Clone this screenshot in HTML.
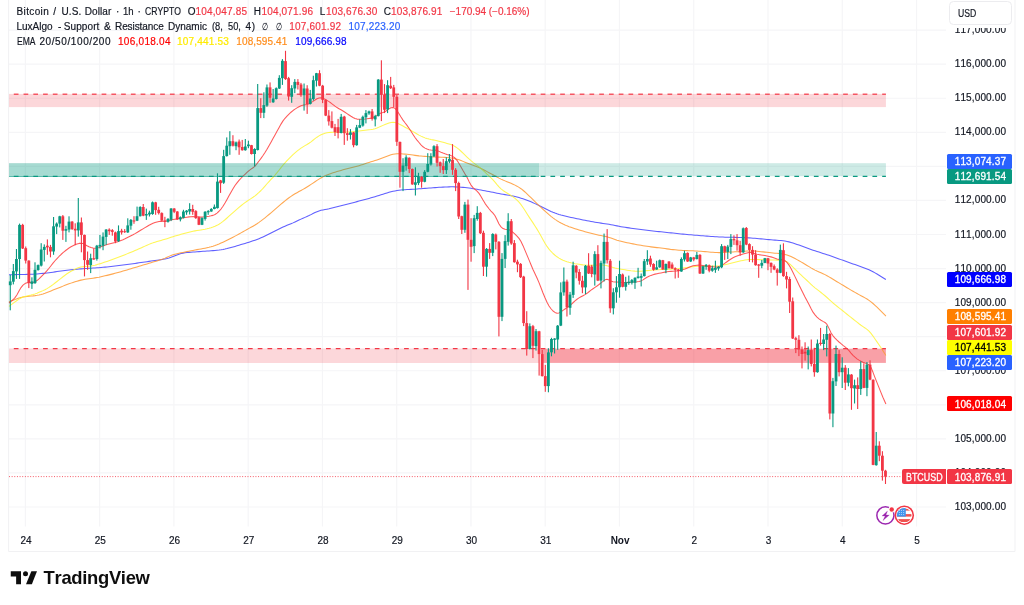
<!DOCTYPE html>
<html lang="en"><head><meta charset="utf-8"><title>BTCUSD chart</title>
<style>
html,body{margin:0;padding:0;background:#fff;}
body{width:1024px;height:605px;position:relative;overflow:hidden;font-family:"Liberation Sans",sans-serif;color:#131722;font-kerning:none;}
svg{position:absolute;left:0;top:0;}
.grp{position:absolute;left:0;top:0;width:0;height:0;font-size:0}
.t{position:absolute;white-space:pre;line-height:12px;-webkit-text-stroke:0.18px currentColor;}
.pl{position:absolute;left:947px;width:64.6px;border-radius:1.5px;color:#fff;font-size:10px;white-space:pre;box-sizing:border-box;}
.pl span{position:absolute;left:7.7px;-webkit-text-stroke:0.3px currentColor;}
</style></head><body>
<svg width="1024" height="605" viewBox="0 0 1024 605">
<line x1="9" x2="946" y1="30.15" y2="30.15" stroke="#f5f5f7" stroke-width="1.2"/>
<line x1="9" x2="946" y1="64.21" y2="64.21" stroke="#f5f5f7" stroke-width="1.2"/>
<line x1="9" x2="946" y1="98.27" y2="98.27" stroke="#f5f5f7" stroke-width="1.2"/>
<line x1="9" x2="946" y1="132.33" y2="132.33" stroke="#f5f5f7" stroke-width="1.2"/>
<line x1="9" x2="946" y1="166.39" y2="166.39" stroke="#f5f5f7" stroke-width="1.2"/>
<line x1="9" x2="946" y1="200.45" y2="200.45" stroke="#f5f5f7" stroke-width="1.2"/>
<line x1="9" x2="946" y1="234.51" y2="234.51" stroke="#f5f5f7" stroke-width="1.2"/>
<line x1="9" x2="946" y1="268.57" y2="268.57" stroke="#f5f5f7" stroke-width="1.2"/>
<line x1="9" x2="946" y1="302.63" y2="302.63" stroke="#f5f5f7" stroke-width="1.2"/>
<line x1="9" x2="946" y1="336.69" y2="336.69" stroke="#f5f5f7" stroke-width="1.2"/>
<line x1="9" x2="946" y1="370.75" y2="370.75" stroke="#f5f5f7" stroke-width="1.2"/>
<line x1="9" x2="946" y1="404.81" y2="404.81" stroke="#f5f5f7" stroke-width="1.2"/>
<line x1="9" x2="946" y1="438.87" y2="438.87" stroke="#f5f5f7" stroke-width="1.2"/>
<line x1="9" x2="946" y1="472.93" y2="472.93" stroke="#f5f5f7" stroke-width="1.2"/>
<line x1="9" x2="946" y1="506.99" y2="506.99" stroke="#f5f5f7" stroke-width="1.2"/>
<line x1="25.40" x2="25.40" y1="0" y2="526.6" stroke="#f5f5f7" stroke-width="1.2"/>
<line x1="99.66" x2="99.66" y1="0" y2="526.6" stroke="#f5f5f7" stroke-width="1.2"/>
<line x1="173.92" x2="173.92" y1="0" y2="526.6" stroke="#f5f5f7" stroke-width="1.2"/>
<line x1="248.18" x2="248.18" y1="0" y2="526.6" stroke="#f5f5f7" stroke-width="1.2"/>
<line x1="322.44" x2="322.44" y1="0" y2="526.6" stroke="#f5f5f7" stroke-width="1.2"/>
<line x1="396.70" x2="396.70" y1="0" y2="526.6" stroke="#f5f5f7" stroke-width="1.2"/>
<line x1="470.96" x2="470.96" y1="0" y2="526.6" stroke="#f5f5f7" stroke-width="1.2"/>
<line x1="545.22" x2="545.22" y1="0" y2="526.6" stroke="#f5f5f7" stroke-width="1.2"/>
<line x1="619.48" x2="619.48" y1="0" y2="526.6" stroke="#f5f5f7" stroke-width="1.2"/>
<line x1="693.74" x2="693.74" y1="0" y2="526.6" stroke="#f5f5f7" stroke-width="1.2"/>
<line x1="768.00" x2="768.00" y1="0" y2="526.6" stroke="#f5f5f7" stroke-width="1.2"/>
<line x1="842.26" x2="842.26" y1="0" y2="526.6" stroke="#f5f5f7" stroke-width="1.2"/>
<line x1="916.52" x2="916.52" y1="0" y2="526.6" stroke="#f5f5f7" stroke-width="1.2"/>
<path d="M8.6 0V551.5H1015V0" fill="none" stroke="#f1f1f3" stroke-width="1"/>
<polyline points="9.0,274.77 11.0,274.72 13.0,274.68 15.0,274.64 17.0,274.6 19.0,274.56 21.0,274.51 23.0,274.47 25.0,274.43 27.0,274.38 29.0,274.32 31.0,274.25 33.0,274.16 35.0,274.04 37.0,273.91 39.0,273.75 41.0,273.57 43.0,273.37 45.0,273.15 47.0,272.92 49.0,272.67 51.0,272.41 53.0,272.15 55.0,271.88 57.0,271.6 59.0,271.33 61.0,271.06 63.0,270.79 65.0,270.54 67.0,270.3 69.0,270.07 71.0,269.85 73.0,269.64 75.0,269.43 77.0,269.24 79.0,269.05 81.0,268.87 83.0,268.71 85.0,268.56 87.0,268.42 89.0,268.29 91.0,268.18 93.0,268.07 95.0,267.95 97.0,267.83 99.0,267.69 101.0,267.52 103.0,267.33 105.0,267.12 107.0,266.9 109.0,266.66 111.0,266.42 113.0,266.18 115.0,265.92 117.0,265.67 119.0,265.41 121.0,265.15 123.0,264.9 125.0,264.66 127.0,264.42 129.0,264.18 131.0,263.93 133.0,263.68 135.0,263.41 137.0,263.12 139.0,262.83 141.0,262.54 143.0,262.24 145.0,261.95 147.0,261.67 149.0,261.39 151.0,261.1 153.0,260.82 155.0,260.54 157.0,260.26 159.0,259.97 161.0,259.67 163.0,259.33 165.0,258.95 167.0,258.49 169.0,257.93 171.0,257.25 173.0,256.49 175.0,255.68 177.0,254.89 179.0,254.18 181.0,253.6 183.0,253.14 185.0,252.81 187.0,252.57 189.0,252.37 191.0,252.21 193.0,252.06 195.0,251.92 197.0,251.78 199.0,251.64 201.0,251.5 203.0,251.35 205.0,251.21 207.0,251.07 209.0,250.93 211.0,250.79 213.0,250.64 215.0,250.47 217.0,250.29 219.0,250.07 221.0,249.8 223.0,249.46 225.0,249.06 227.0,248.6 229.0,248.09 231.0,247.54 233.0,246.98 235.0,246.39 237.0,245.8 239.0,245.2 241.0,244.61 243.0,244.01 245.0,243.4 247.0,242.79 249.0,242.17 251.0,241.54 253.0,240.87 255.0,240.17 257.0,239.43 259.0,238.65 261.0,237.82 263.0,236.94 265.0,236.02 267.0,235.06 269.0,234.07 271.0,233.05 273.0,232.01 275.0,230.97 277.0,229.94 279.0,228.93 281.0,227.97 283.0,227.05 285.0,226.17 287.0,225.34 289.0,224.53 291.0,223.72 293.0,222.88 295.0,221.98 297.0,221.04 299.0,220.08 301.0,219.14 303.0,218.24 305.0,217.36 307.0,216.49 309.0,215.58 311.0,214.61 313.0,213.59 315.0,212.59 317.0,211.69 319.0,210.94 321.0,210.36 323.0,209.92 325.0,209.55 327.0,209.16 329.0,208.73 331.0,208.25 333.0,207.74 335.0,207.21 337.0,206.69 339.0,206.18 341.0,205.67 343.0,205.18 345.0,204.69 347.0,204.2 349.0,203.71 351.0,203.2 353.0,202.69 355.0,202.16 357.0,201.63 359.0,201.09 361.0,200.56 363.0,200.02 365.0,199.49 367.0,198.95 369.0,198.4 371.0,197.83 373.0,197.24 375.0,196.64 377.0,196.02 379.0,195.39 381.0,194.77 383.0,194.15 385.0,193.53 387.0,192.94 389.0,192.37 391.0,191.83 393.0,191.35 395.0,190.92 397.0,190.56 399.0,190.26 401.0,190.02 403.0,189.84 405.0,189.7 407.0,189.58 409.0,189.48 411.0,189.38 413.0,189.27 415.0,189.15 417.0,189.01 419.0,188.85 421.0,188.7 423.0,188.55 425.0,188.39 427.0,188.24 429.0,188.08 431.0,187.92 433.0,187.76 435.0,187.61 437.0,187.47 439.0,187.35 441.0,187.24 443.0,187.14 445.0,187.05 447.0,186.96 449.0,186.89 451.0,186.85 453.0,186.84 455.0,186.87 457.0,186.94 459.0,187.05 461.0,187.19 463.0,187.36 465.0,187.56 467.0,187.79 469.0,188.05 471.0,188.34 473.0,188.66 475.0,188.99 477.0,189.35 479.0,189.71 481.0,190.07 483.0,190.43 485.0,190.79 487.0,191.16 489.0,191.55 491.0,191.94 493.0,192.35 495.0,192.77 497.0,193.18 499.0,193.57 501.0,193.94 503.0,194.3 505.0,194.64 507.0,194.98 509.0,195.33 511.0,195.69 513.0,196.09 515.0,196.52 517.0,197.0 519.0,197.54 521.0,198.13 523.0,198.78 525.0,199.47 527.0,200.22 529.0,201.01 531.0,201.85 533.0,202.71 535.0,203.61 537.0,204.55 539.0,205.51 541.0,206.5 543.0,207.51 545.0,208.52 547.0,209.52 549.0,210.49 551.0,211.42 553.0,212.29 555.0,213.1 557.0,213.83 559.0,214.49 561.0,215.08 563.0,215.61 565.0,216.1 567.0,216.56 569.0,217.0 571.0,217.42 573.0,217.83 575.0,218.23 577.0,218.64 579.0,219.05 581.0,219.47 583.0,219.89 585.0,220.3 587.0,220.71 589.0,221.11 591.0,221.49 593.0,221.84 595.0,222.19 597.0,222.51 599.0,222.82 601.0,223.12 603.0,223.41 605.0,223.71 607.0,224.01 609.0,224.34 611.0,224.68 613.0,225.06 615.0,225.46 617.0,225.87 619.0,226.27 621.0,226.65 623.0,227.0 625.0,227.32 627.0,227.61 629.0,227.89 631.0,228.16 633.0,228.43 635.0,228.7 637.0,228.98 639.0,229.25 641.0,229.53 643.0,229.8 645.0,230.07 647.0,230.33 649.0,230.57 651.0,230.81 653.0,231.03 655.0,231.24 657.0,231.44 659.0,231.64 661.0,231.83 663.0,232.03 665.0,232.23 667.0,232.45 669.0,232.66 671.0,232.88 673.0,233.1 675.0,233.31 677.0,233.51 679.0,233.72 681.0,233.92 683.0,234.11 685.0,234.3 687.0,234.49 689.0,234.67 691.0,234.84 693.0,235.01 695.0,235.18 697.0,235.34 699.0,235.5 701.0,235.66 703.0,235.82 705.0,235.98 707.0,236.13 709.0,236.29 711.0,236.43 713.0,236.57 715.0,236.71 717.0,236.82 719.0,236.93 721.0,237.02 723.0,237.1 725.0,237.16 727.0,237.21 729.0,237.26 731.0,237.3 733.0,237.35 735.0,237.39 737.0,237.43 739.0,237.48 741.0,237.53 743.0,237.59 745.0,237.66 747.0,237.76 749.0,237.87 751.0,238.0 753.0,238.15 755.0,238.32 757.0,238.5 759.0,238.69 761.0,238.88 763.0,239.08 765.0,239.27 767.0,239.46 769.0,239.64 771.0,239.81 773.0,239.97 775.0,240.12 777.0,240.26 779.0,240.41 781.0,240.59 783.0,240.8 785.0,241.07 787.0,241.43 789.0,241.87 791.0,242.41 793.0,243.01 795.0,243.68 797.0,244.38 799.0,245.1 801.0,245.84 803.0,246.58 805.0,247.32 807.0,248.05 809.0,248.77 811.0,249.47 813.0,250.15 815.0,250.82 817.0,251.48 819.0,252.12 821.0,252.76 823.0,253.39 825.0,254.03 827.0,254.68 829.0,255.35 831.0,256.04 833.0,256.74 835.0,257.45 837.0,258.18 839.0,258.9 841.0,259.62 843.0,260.34 845.0,261.07 847.0,261.78 849.0,262.5 851.0,263.21 853.0,263.92 855.0,264.62 857.0,265.32 859.0,266.01 861.0,266.7 863.0,267.41 865.0,268.14 867.0,268.93 869.0,269.79 871.0,270.73 873.0,271.76 875.0,272.88 877.0,274.05 879.0,275.26 881.0,276.49 883.0,277.72 885.0,278.96 885.9,279.52" fill="none" stroke="#3c3cff" stroke-width="1.05" stroke-opacity="0.82" stroke-linejoin="round"/>
<polyline points="9.0,301.9 11.0,301.1 13.0,300.31 15.0,299.53 17.0,298.78 19.0,298.09 21.0,297.5 23.0,297.02 25.0,296.66 27.0,296.41 29.0,296.22 31.0,296.05 33.0,295.86 35.0,295.62 37.0,295.32 39.0,294.94 41.0,294.46 43.0,293.88 45.0,293.21 47.0,292.47 49.0,291.7 51.0,290.91 53.0,290.11 55.0,289.31 57.0,288.51 59.0,287.71 61.0,286.92 63.0,286.13 65.0,285.35 67.0,284.59 69.0,283.85 71.0,283.13 73.0,282.45 75.0,281.8 77.0,281.19 79.0,280.63 81.0,280.13 83.0,279.69 85.0,279.31 87.0,278.99 89.0,278.71 91.0,278.44 93.0,278.17 95.0,277.88 97.0,277.56 99.0,277.2 101.0,276.79 103.0,276.34 105.0,275.86 107.0,275.37 109.0,274.87 111.0,274.37 113.0,273.87 115.0,273.35 117.0,272.81 119.0,272.25 121.0,271.68 123.0,271.09 125.0,270.49 127.0,269.89 129.0,269.29 131.0,268.69 133.0,268.09 135.0,267.49 137.0,266.89 139.0,266.29 141.0,265.69 143.0,265.09 145.0,264.49 147.0,263.89 149.0,263.29 151.0,262.69 153.0,262.09 155.0,261.49 157.0,260.88 159.0,260.27 161.0,259.62 163.0,258.91 165.0,258.12 167.0,257.26 169.0,256.36 171.0,255.52 173.0,254.79 175.0,254.19 177.0,253.69 179.0,253.25 181.0,252.83 183.0,252.41 185.0,252.0 187.0,251.6 189.0,251.19 191.0,250.79 193.0,250.39 195.0,250.01 197.0,249.63 199.0,249.27 201.0,248.91 203.0,248.55 205.0,248.17 207.0,247.77 209.0,247.33 211.0,246.83 213.0,246.25 215.0,245.58 217.0,244.83 219.0,243.99 221.0,243.09 223.0,242.15 225.0,241.18 227.0,240.2 229.0,239.2 231.0,238.2 233.0,237.18 235.0,236.15 237.0,235.09 239.0,233.99 241.0,232.87 243.0,231.73 245.0,230.6 247.0,229.49 249.0,228.4 251.0,227.32 253.0,226.19 255.0,225.01 257.0,223.74 259.0,222.38 261.0,220.94 263.0,219.41 265.0,217.82 267.0,216.17 269.0,214.48 271.0,212.79 273.0,211.09 275.0,209.39 277.0,207.68 279.0,205.95 281.0,204.21 283.0,202.48 285.0,200.81 287.0,199.23 289.0,197.74 291.0,196.34 293.0,195.03 295.0,193.81 297.0,192.67 299.0,191.57 301.0,190.49 303.0,189.37 305.0,188.2 307.0,186.97 309.0,185.71 311.0,184.41 313.0,183.08 315.0,181.75 317.0,180.43 319.0,179.14 321.0,177.92 323.0,176.81 325.0,175.82 327.0,174.95 329.0,174.19 331.0,173.49 333.0,172.85 335.0,172.23 337.0,171.62 339.0,171.03 341.0,170.44 343.0,169.87 345.0,169.33 347.0,168.81 349.0,168.31 351.0,167.81 353.0,167.3 355.0,166.78 357.0,166.23 359.0,165.65 361.0,165.04 363.0,164.41 365.0,163.76 367.0,163.12 369.0,162.49 371.0,161.87 373.0,161.25 375.0,160.62 377.0,159.95 379.0,159.25 381.0,158.52 383.0,157.75 385.0,156.97 387.0,156.2 389.0,155.46 391.0,154.8 393.0,154.28 395.0,153.93 397.0,153.75 399.0,153.73 401.0,153.81 403.0,153.95 405.0,154.13 407.0,154.33 409.0,154.57 411.0,154.83 413.0,155.1 415.0,155.37 417.0,155.63 419.0,155.87 421.0,156.06 423.0,156.23 425.0,156.37 427.0,156.51 429.0,156.67 431.0,156.83 433.0,156.97 435.0,157.07 437.0,157.11 439.0,157.13 441.0,157.17 443.0,157.25 445.0,157.37 447.0,157.54 449.0,157.75 451.0,158.0 453.0,158.32 455.0,158.72 457.0,159.23 459.0,159.85 461.0,160.58 463.0,161.38 465.0,162.21 467.0,163.03 469.0,163.83 471.0,164.6 473.0,165.32 475.0,166.03 477.0,166.76 479.0,167.57 481.0,168.48 483.0,169.48 485.0,170.55 487.0,171.62 489.0,172.68 491.0,173.73 493.0,174.81 495.0,175.92 497.0,177.04 499.0,178.12 501.0,179.13 503.0,180.04 505.0,180.89 507.0,181.69 509.0,182.49 511.0,183.31 513.0,184.18 515.0,185.12 517.0,186.16 519.0,187.34 521.0,188.7 523.0,190.25 525.0,191.99 527.0,193.85 529.0,195.78 531.0,197.74 533.0,199.71 535.0,201.66 537.0,203.6 539.0,205.52 541.0,207.42 543.0,209.28 545.0,211.12 547.0,212.91 549.0,214.64 551.0,216.29 553.0,217.86 555.0,219.33 557.0,220.68 559.0,221.92 561.0,223.05 563.0,224.07 565.0,225.01 567.0,225.86 569.0,226.64 571.0,227.36 573.0,228.04 575.0,228.69 577.0,229.32 579.0,229.92 581.0,230.52 583.0,231.11 585.0,231.68 587.0,232.25 589.0,232.8 591.0,233.34 593.0,233.85 595.0,234.34 597.0,234.79 599.0,235.2 601.0,235.59 603.0,235.96 605.0,236.37 607.0,236.84 609.0,237.42 611.0,238.08 613.0,238.79 615.0,239.49 617.0,240.15 619.0,240.75 621.0,241.29 623.0,241.79 625.0,242.25 627.0,242.67 629.0,243.08 631.0,243.49 633.0,243.88 635.0,244.27 637.0,244.65 639.0,245.01 641.0,245.35 643.0,245.68 645.0,245.99 647.0,246.29 649.0,246.59 651.0,246.86 653.0,247.13 655.0,247.38 657.0,247.61 659.0,247.84 661.0,248.08 663.0,248.32 665.0,248.59 667.0,248.87 669.0,249.14 671.0,249.4 673.0,249.63 675.0,249.82 677.0,250.0 679.0,250.15 681.0,250.29 683.0,250.42 685.0,250.53 687.0,250.63 689.0,250.71 691.0,250.78 693.0,250.85 695.0,250.93 697.0,251.03 699.0,251.15 701.0,251.3 703.0,251.46 705.0,251.63 707.0,251.81 709.0,251.99 711.0,252.17 713.0,252.33 715.0,252.47 717.0,252.57 719.0,252.62 721.0,252.61 723.0,252.53 725.0,252.4 727.0,252.25 729.0,252.11 731.0,252.0 733.0,251.92 735.0,251.85 737.0,251.77 739.0,251.66 741.0,251.51 743.0,251.35 745.0,251.19 747.0,251.06 749.0,250.98 751.0,250.95 753.0,250.99 755.0,251.1 757.0,251.26 759.0,251.45 761.0,251.66 763.0,251.89 765.0,252.11 767.0,252.34 769.0,252.56 771.0,252.77 773.0,252.97 775.0,253.16 777.0,253.35 779.0,253.56 781.0,253.8 783.0,254.1 785.0,254.5 787.0,255.03 789.0,255.72 791.0,256.55 793.0,257.5 795.0,258.54 797.0,259.63 799.0,260.74 801.0,261.88 803.0,263.03 805.0,264.21 807.0,265.43 809.0,266.67 811.0,267.89 813.0,269.04 815.0,270.1 817.0,271.06 819.0,271.95 821.0,272.81 823.0,273.7 825.0,274.65 827.0,275.7 829.0,276.84 831.0,278.05 833.0,279.27 835.0,280.49 837.0,281.7 839.0,282.91 841.0,284.11 843.0,285.31 845.0,286.51 847.0,287.71 849.0,288.9 851.0,290.08 853.0,291.25 855.0,292.4 857.0,293.52 859.0,294.62 861.0,295.7 863.0,296.78 865.0,297.88 867.0,299.05 869.0,300.36 871.0,301.83 873.0,303.5 875.0,305.32 877.0,307.24 879.0,309.21 881.0,311.2 883.0,313.2 885.0,315.2 885.9,316.1" fill="none" stroke="#ff9428" stroke-width="1.05" stroke-opacity="0.82" stroke-linejoin="round"/>
<polyline points="9.0,306.33 11.0,304.86 13.0,303.37 15.0,301.88 17.0,300.46 19.0,299.14 21.0,298.0 23.0,297.08 25.0,296.4 27.0,295.89 29.0,295.46 31.0,295.02 33.0,294.51 35.0,293.88 37.0,293.15 39.0,292.36 41.0,291.52 43.0,290.63 45.0,289.67 47.0,288.59 49.0,287.38 51.0,286.02 53.0,284.56 55.0,283.04 57.0,281.48 59.0,279.89 61.0,278.3 63.0,276.73 65.0,275.22 67.0,273.8 69.0,272.49 71.0,271.29 73.0,270.2 75.0,269.2 77.0,268.32 79.0,267.6 81.0,267.06 83.0,266.69 85.0,266.46 87.0,266.3 89.0,266.15 91.0,265.92 93.0,265.59 95.0,265.15 97.0,264.62 99.0,264.04 101.0,263.42 103.0,262.77 105.0,262.11 107.0,261.44 109.0,260.75 111.0,260.05 113.0,259.33 115.0,258.59 117.0,257.83 119.0,257.06 121.0,256.26 123.0,255.47 125.0,254.67 127.0,253.87 129.0,253.06 131.0,252.25 133.0,251.42 135.0,250.57 137.0,249.7 139.0,248.81 141.0,247.92 143.0,247.02 145.0,246.12 147.0,245.23 149.0,244.38 151.0,243.6 153.0,242.87 155.0,242.19 157.0,241.55 159.0,240.96 161.0,240.39 163.0,239.84 165.0,239.26 167.0,238.64 169.0,237.99 171.0,237.34 173.0,236.71 175.0,236.11 177.0,235.53 179.0,234.95 181.0,234.36 183.0,233.77 185.0,233.19 187.0,232.64 189.0,232.14 191.0,231.68 193.0,231.27 195.0,230.89 197.0,230.54 199.0,230.22 201.0,229.91 203.0,229.58 205.0,229.2 207.0,228.75 209.0,228.25 211.0,227.69 213.0,227.05 215.0,226.28 217.0,225.34 219.0,224.23 221.0,222.92 223.0,221.42 225.0,219.76 227.0,218.0 229.0,216.21 231.0,214.42 233.0,212.62 235.0,210.84 237.0,209.09 239.0,207.39 241.0,205.75 243.0,204.17 245.0,202.65 247.0,201.24 249.0,199.91 251.0,198.63 253.0,197.29 255.0,195.83 257.0,194.22 259.0,192.44 261.0,190.5 263.0,188.36 265.0,186.07 267.0,183.76 269.0,181.55 271.0,179.42 273.0,177.27 275.0,175.05 277.0,172.69 279.0,170.21 281.0,167.65 283.0,165.17 285.0,162.86 287.0,160.7 289.0,158.6 291.0,156.54 293.0,154.58 295.0,152.78 297.0,151.13 299.0,149.58 301.0,148.15 303.0,146.84 305.0,145.64 307.0,144.47 309.0,143.23 311.0,141.82 313.0,140.28 315.0,138.69 317.0,137.2 319.0,135.87 321.0,134.76 323.0,133.9 325.0,133.28 327.0,132.85 329.0,132.56 331.0,132.38 333.0,132.3 335.0,132.28 337.0,132.3 339.0,132.32 341.0,132.31 343.0,132.27 345.0,132.19 347.0,132.1 349.0,131.98 351.0,131.85 353.0,131.68 355.0,131.49 357.0,131.28 359.0,131.04 361.0,130.77 363.0,130.48 365.0,130.2 367.0,129.94 369.0,129.73 371.0,129.53 373.0,129.23 375.0,128.72 377.0,127.99 379.0,127.12 381.0,126.23 383.0,125.37 385.0,124.52 387.0,123.68 389.0,122.92 391.0,122.4 393.0,122.26 395.0,122.5 397.0,123.08 399.0,123.92 401.0,124.95 403.0,126.08 405.0,127.2 407.0,128.3 409.0,129.39 411.0,130.5 413.0,131.65 415.0,132.82 417.0,133.98 419.0,135.1 421.0,136.14 423.0,137.07 425.0,137.88 427.0,138.55 429.0,139.11 431.0,139.54 433.0,139.88 435.0,140.22 437.0,140.65 439.0,141.17 441.0,141.75 443.0,142.32 445.0,142.86 447.0,143.39 449.0,143.95 451.0,144.6 453.0,145.41 455.0,146.47 457.0,147.83 459.0,149.45 461.0,151.25 463.0,153.16 465.0,155.1 467.0,157.02 469.0,158.9 471.0,160.68 473.0,162.35 475.0,163.9 477.0,165.38 479.0,166.87 481.0,168.48 483.0,170.29 485.0,172.24 487.0,174.17 489.0,176.0 491.0,177.8 493.0,179.79 495.0,182.09 497.0,184.6 499.0,186.95 501.0,188.89 503.0,190.44 505.0,191.79 507.0,193.03 509.0,194.23 511.0,195.47 513.0,196.84 515.0,198.4 517.0,200.17 519.0,202.19 521.0,204.6 523.0,207.43 525.0,210.56 527.0,213.75 529.0,216.84 531.0,219.84 533.0,222.85 535.0,225.93 537.0,229.12 539.0,232.47 541.0,236.02 543.0,239.67 545.0,243.22 547.0,246.41 549.0,249.14 551.0,251.48 553.0,253.5 555.0,255.26 557.0,256.8 559.0,258.14 561.0,259.28 563.0,260.25 565.0,261.07 567.0,261.76 569.0,262.35 571.0,262.86 573.0,263.3 575.0,263.69 577.0,264.03 579.0,264.34 581.0,264.62 583.0,264.87 585.0,265.07 587.0,265.24 589.0,265.34 591.0,265.36 593.0,265.31 595.0,265.22 597.0,265.13 599.0,265.05 601.0,265.02 603.0,265.08 605.0,265.31 607.0,265.71 609.0,266.25 611.0,266.83 613.0,267.41 615.0,267.95 617.0,268.43 619.0,268.82 621.0,269.17 623.0,269.5 625.0,269.83 627.0,270.15 629.0,270.46 631.0,270.73 633.0,270.95 635.0,271.13 637.0,271.24 639.0,271.25 641.0,271.15 643.0,271.0 645.0,270.81 647.0,270.61 649.0,270.41 651.0,270.22 653.0,270.04 655.0,269.89 657.0,269.77 659.0,269.67 661.0,269.59 663.0,269.5 665.0,269.42 667.0,269.34 669.0,269.25 671.0,269.14 673.0,269.02 675.0,268.87 677.0,268.7 679.0,268.5 681.0,268.28 683.0,268.03 685.0,267.76 687.0,267.48 689.0,267.2 691.0,266.93 693.0,266.67 695.0,266.45 697.0,266.3 699.0,266.22 701.0,266.19 703.0,266.18 705.0,266.18 707.0,266.18 709.0,266.17 711.0,266.15 713.0,266.1 715.0,266.02 717.0,265.9 719.0,265.73 721.0,265.47 723.0,265.11 725.0,264.66 727.0,264.17 729.0,263.67 731.0,263.17 733.0,262.69 735.0,262.21 737.0,261.74 739.0,261.29 741.0,260.86 743.0,260.45 745.0,260.09 747.0,259.8 749.0,259.59 751.0,259.47 753.0,259.43 755.0,259.46 757.0,259.54 759.0,259.63 761.0,259.73 763.0,259.8 765.0,259.84 767.0,259.86 769.0,259.88 771.0,259.91 773.0,259.97 775.0,260.04 777.0,260.11 779.0,260.17 781.0,260.26 783.0,260.48 785.0,260.98 787.0,261.92 789.0,263.34 791.0,265.14 793.0,267.13 795.0,269.17 797.0,271.17 799.0,273.11 801.0,274.99 803.0,276.81 805.0,278.64 807.0,280.5 809.0,282.4 811.0,284.29 813.0,286.1 815.0,287.79 817.0,289.39 819.0,290.94 821.0,292.5 823.0,294.1 825.0,295.76 827.0,297.51 829.0,299.36 831.0,301.22 833.0,302.98 835.0,304.64 837.0,306.24 839.0,307.83 841.0,309.43 843.0,311.03 845.0,312.62 847.0,314.22 849.0,315.82 851.0,317.42 853.0,319.02 855.0,320.62 857.0,322.2 859.0,323.75 861.0,325.22 863.0,326.6 865.0,327.94 867.0,329.4 869.0,331.18 871.0,333.42 873.0,336.07 875.0,338.93 877.0,341.84 879.0,344.78 881.0,347.79 883.0,350.88 885.0,354.04 885.9,355.46" fill="none" stroke="#fff430" stroke-width="1.05" stroke-opacity="0.82" stroke-linejoin="round"/>
<polyline points="9.0,303.01 11.0,301.47 13.0,299.75 15.0,297.63 17.0,294.73 19.0,291.04 21.0,287.58 23.0,285.13 25.0,283.55 27.0,282.81 29.0,282.56 31.0,282.55 33.0,282.4 35.0,281.73 37.0,280.54 39.0,278.89 41.0,276.95 43.0,274.95 45.0,272.88 47.0,270.65 49.0,268.25 51.0,265.73 53.0,263.17 55.0,260.77 57.0,258.58 59.0,256.49 61.0,254.51 63.0,252.68 65.0,251.03 67.0,249.49 69.0,248.05 71.0,246.78 73.0,245.73 75.0,244.81 77.0,244.0 79.0,243.38 81.0,243.16 83.0,243.57 85.0,244.58 87.0,245.78 89.0,246.83 91.0,247.61 93.0,248.11 95.0,248.25 97.0,247.99 99.0,247.41 101.0,246.68 103.0,245.95 105.0,245.25 107.0,244.57 109.0,243.98 111.0,243.48 113.0,242.99 115.0,242.49 117.0,241.91 119.0,241.22 121.0,240.47 123.0,239.67 125.0,238.78 127.0,237.8 129.0,236.79 131.0,235.8 133.0,234.77 135.0,233.63 137.0,232.43 139.0,231.23 141.0,230.03 143.0,228.83 145.0,227.63 147.0,226.44 149.0,225.29 151.0,224.24 153.0,223.32 155.0,222.55 157.0,221.95 159.0,221.57 161.0,221.37 163.0,221.25 165.0,221.13 167.0,220.93 169.0,220.57 171.0,220.07 173.0,219.58 175.0,219.21 177.0,218.89 179.0,218.57 181.0,218.22 183.0,217.87 185.0,217.51 187.0,217.17 189.0,216.88 191.0,216.67 193.0,216.57 195.0,216.65 197.0,216.83 199.0,217.02 201.0,217.13 203.0,217.05 205.0,216.83 207.0,216.56 209.0,216.24 211.0,215.85 213.0,215.38 215.0,214.54 217.0,213.1 219.0,211.26 221.0,209.04 223.0,206.26 225.0,203.03 227.0,199.49 229.0,195.81 231.0,192.19 233.0,188.7 235.0,185.54 237.0,182.85 239.0,180.44 241.0,178.25 243.0,176.21 245.0,174.26 247.0,172.38 249.0,170.63 251.0,169.15 253.0,167.79 255.0,166.04 257.0,163.65 259.0,161.0 261.0,158.32 263.0,155.55 265.0,152.57 267.0,149.3 269.0,145.77 271.0,142.16 273.0,138.54 275.0,134.92 277.0,131.29 279.0,127.67 281.0,124.1 283.0,120.86 285.0,118.29 287.0,116.13 289.0,114.12 291.0,112.24 293.0,110.53 295.0,109.09 297.0,107.84 299.0,106.75 301.0,105.83 303.0,105.12 305.0,104.74 307.0,104.43 309.0,103.75 311.0,102.65 313.0,101.38 315.0,100.01 317.0,98.76 319.0,97.94 321.0,97.82 323.0,98.34 325.0,99.23 327.0,100.36 329.0,101.65 331.0,103.05 333.0,104.6 335.0,106.19 337.0,107.56 339.0,108.67 341.0,109.76 343.0,110.98 345.0,112.3 347.0,113.63 349.0,114.96 351.0,116.24 353.0,117.43 355.0,118.47 357.0,119.11 359.0,119.32 361.0,119.34 363.0,119.22 365.0,119.02 367.0,118.76 369.0,118.45 371.0,118.12 373.0,117.57 375.0,116.6 377.0,115.37 379.0,114.08 381.0,113.06 383.0,112.48 385.0,111.7 387.0,110.25 389.0,108.74 391.0,107.71 393.0,107.45 395.0,108.36 397.0,110.64 399.0,113.81 401.0,117.06 403.0,120.09 405.0,122.8 407.0,125.37 409.0,128.18 411.0,131.27 413.0,134.42 415.0,137.44 417.0,140.12 419.0,142.53 421.0,144.87 423.0,146.79 425.0,148.13 427.0,149.04 429.0,149.67 431.0,150.08 433.0,150.16 435.0,150.12 437.0,150.47 439.0,151.36 441.0,152.31 443.0,153.09 445.0,153.8 447.0,154.46 449.0,155.0 451.0,155.62 453.0,156.6 455.0,158.05 457.0,160.39 459.0,163.47 461.0,166.91 463.0,170.54 465.0,173.93 467.0,177.34 469.0,181.38 471.0,185.08 473.0,187.68 475.0,189.41 477.0,191.12 479.0,193.39 481.0,196.54 483.0,200.06 485.0,203.33 487.0,206.18 489.0,208.77 491.0,211.06 493.0,213.14 495.0,215.76 497.0,219.74 499.0,223.94 501.0,226.89 503.0,228.54 505.0,229.33 507.0,229.6 509.0,229.81 511.0,230.72 513.0,232.32 515.0,234.2 517.0,236.18 519.0,238.38 521.0,241.43 523.0,245.67 525.0,250.39 527.0,255.1 529.0,259.84 531.0,264.71 533.0,269.44 535.0,273.72 537.0,277.94 539.0,282.65 541.0,287.81 543.0,292.96 545.0,297.79 547.0,302.26 549.0,305.93 551.0,308.76 553.0,310.99 555.0,312.42 557.0,313.18 559.0,312.92 561.0,311.74 563.0,310.37 565.0,309.01 567.0,307.62 569.0,306.16 571.0,304.57 573.0,302.75 575.0,300.86 577.0,299.22 579.0,297.9 581.0,296.74 583.0,295.67 585.0,294.59 587.0,293.29 589.0,291.73 591.0,290.15 593.0,288.71 595.0,287.35 597.0,285.96 599.0,284.5 601.0,282.96 603.0,281.32 605.0,279.84 607.0,279.35 609.0,280.07 611.0,281.07 613.0,281.72 615.0,281.93 617.0,281.96 619.0,282.24 621.0,282.56 623.0,282.66 625.0,282.58 627.0,282.46 629.0,282.34 631.0,282.2 633.0,282.05 635.0,281.9 637.0,281.7 639.0,281.43 641.0,280.91 643.0,279.86 645.0,278.47 647.0,277.21 649.0,276.24 651.0,275.39 653.0,274.65 655.0,274.12 657.0,273.7 659.0,273.3 661.0,272.9 663.0,272.5 665.0,272.12 667.0,271.8 669.0,271.57 671.0,271.37 673.0,271.18 675.0,271.02 677.0,270.86 679.0,270.62 681.0,270.19 683.0,269.58 685.0,268.91 687.0,268.18 689.0,267.36 691.0,266.54 693.0,265.86 695.0,265.45 697.0,265.19 699.0,265.05 701.0,265.19 703.0,265.53 705.0,265.91 707.0,266.22 709.0,266.45 711.0,266.65 713.0,266.84 715.0,267.0 717.0,267.12 719.0,266.95 721.0,266.08 723.0,264.68 725.0,263.18 727.0,261.71 729.0,260.29 731.0,258.99 733.0,257.81 735.0,256.82 737.0,256.05 739.0,255.37 741.0,254.68 743.0,254.01 745.0,253.45 747.0,253.01 749.0,252.57 751.0,252.52 753.0,253.05 755.0,253.67 757.0,254.19 759.0,254.61 761.0,254.92 763.0,255.22 765.0,255.58 767.0,255.98 769.0,256.41 771.0,256.88 773.0,257.44 775.0,258.18 777.0,258.94 779.0,259.41 781.0,259.57 783.0,259.8 785.0,260.63 787.0,262.45 789.0,265.13 791.0,268.48 793.0,272.41 795.0,276.65 797.0,280.84 799.0,284.91 801.0,288.95 803.0,293.06 805.0,297.08 807.0,300.77 809.0,304.47 811.0,308.49 813.0,312.13 815.0,314.89 817.0,317.03 819.0,318.82 821.0,320.23 823.0,321.36 825.0,322.42 827.0,324.39 829.0,328.37 831.0,332.74 833.0,335.8 835.0,338.13 837.0,340.19 839.0,342.01 841.0,343.71 843.0,345.32 845.0,346.85 847.0,348.55 849.0,350.69 851.0,353.06 853.0,355.31 855.0,357.2 857.0,358.82 859.0,360.16 861.0,361.23 863.0,362.19 865.0,363.03 867.0,363.79 869.0,364.8 871.0,367.47 873.0,372.32 875.0,377.62 877.0,382.59 879.0,387.59 881.0,392.66 883.0,397.46 885.0,401.93 885.9,403.92" fill="none" stroke="#ff3434" stroke-width="1.05" stroke-opacity="0.82" stroke-linejoin="round"/>
<rect x="9" y="93.9" width="876.9" height="13.2" fill="#f23645" fill-opacity="0.2"/>
<line x1="9" x2="885.9" y1="94.3" y2="94.3" stroke="#f23645" stroke-width="1.4" stroke-opacity="0.8" stroke-dasharray="4.7 5.057" stroke-dashoffset="-4.8"/>
<rect x="9" y="163.2" width="876.9" height="13.0" fill="#089981" fill-opacity="0.2"/>
<rect x="9" y="163.2" width="530.0" height="13.8" fill="#089981" fill-opacity="0.2"/>
<line x1="9" x2="539.0" y1="176.5" y2="176.5" stroke="#089981" stroke-width="1.1" stroke-opacity="0.55"/>
<line x1="9" x2="885.9" y1="176.4" y2="176.4" stroke="#089981" stroke-width="1.1" stroke-dasharray="4.7 5.057" stroke-dashoffset="-4.8"/>
<rect x="9" y="348.5" width="530.0" height="14.5" fill="#f23645" fill-opacity="0.2"/>
<rect x="541.0" y="348.7" width="344.9" height="14.2" fill="#f23645" fill-opacity="0.47"/>
<line x1="9" x2="885.9" y1="348.6" y2="348.6" stroke="#f23645" stroke-width="1.1" stroke-dasharray="4.7 5.057" stroke-dashoffset="-4.8"/>
<line x1="9" x2="902" y1="476.6" y2="476.6" stroke="#f23645" stroke-width="1" stroke-opacity="0.85" stroke-dasharray="0.95 1.7"/>
<rect x="9.71" y="274.8" width="1.1" height="35.5" fill="#089981"/>
<rect x="8.86" y="281.4" width="2.8" height="3.8" fill="#089981"/>
<rect x="12.80" y="264.0" width="1.1" height="20.4" fill="#089981"/>
<rect x="11.95" y="271.1" width="2.8" height="10.6" fill="#089981"/>
<rect x="15.90" y="249.0" width="1.1" height="29.9" fill="#089981"/>
<rect x="15.05" y="259.0" width="2.8" height="12.4" fill="#089981"/>
<rect x="18.99" y="223.6" width="1.1" height="55.3" fill="#089981"/>
<rect x="18.14" y="224.9" width="2.8" height="34.1" fill="#089981"/>
<rect x="22.08" y="223.8" width="1.1" height="25.2" fill="#f23645"/>
<rect x="21.23" y="224.9" width="2.8" height="23.6" fill="#f23645"/>
<rect x="25.17" y="246.5" width="1.1" height="17.0" fill="#f23645"/>
<rect x="24.32" y="248.2" width="2.8" height="12.4" fill="#f23645"/>
<rect x="28.27" y="260.3" width="1.1" height="27.8" fill="#f23645"/>
<rect x="27.42" y="260.6" width="2.8" height="22.5" fill="#f23645"/>
<rect x="31.36" y="277.3" width="1.1" height="11.6" fill="#089981"/>
<rect x="30.51" y="281.4" width="2.8" height="2.5" fill="#089981"/>
<rect x="34.45" y="262.3" width="1.1" height="21.6" fill="#089981"/>
<rect x="33.60" y="269.8" width="2.8" height="13.3" fill="#089981"/>
<rect x="37.54" y="264.5" width="1.1" height="6.1" fill="#089981"/>
<rect x="36.69" y="265.1" width="2.8" height="5.0" fill="#089981"/>
<rect x="40.64" y="243.2" width="1.1" height="23.3" fill="#089981"/>
<rect x="39.79" y="249.5" width="2.8" height="16.1" fill="#089981"/>
<rect x="43.73" y="244.4" width="1.1" height="17.1" fill="#089981"/>
<rect x="42.88" y="246.9" width="2.8" height="3.0" fill="#089981"/>
<rect x="46.82" y="239.4" width="1.1" height="15.4" fill="#f23645"/>
<rect x="45.97" y="245.7" width="2.8" height="1.7" fill="#f23645"/>
<rect x="49.92" y="244.9" width="1.1" height="12.4" fill="#f23645"/>
<rect x="49.07" y="246.9" width="2.8" height="4.6" fill="#f23645"/>
<rect x="53.01" y="217.0" width="1.1" height="37.8" fill="#089981"/>
<rect x="52.16" y="226.3" width="2.8" height="25.2" fill="#089981"/>
<rect x="56.10" y="222.4" width="1.1" height="11.7" fill="#089981"/>
<rect x="55.25" y="223.6" width="2.8" height="3.0" fill="#089981"/>
<rect x="59.19" y="215.8" width="1.1" height="11.6" fill="#089981"/>
<rect x="58.34" y="216.3" width="2.8" height="7.3" fill="#089981"/>
<rect x="62.29" y="215.0" width="1.1" height="24.9" fill="#f23645"/>
<rect x="61.44" y="216.3" width="2.8" height="14.4" fill="#f23645"/>
<rect x="65.38" y="225.8" width="1.1" height="16.1" fill="#089981"/>
<rect x="64.53" y="229.1" width="2.8" height="1.6" fill="#089981"/>
<rect x="68.47" y="216.3" width="1.1" height="16.1" fill="#089981"/>
<rect x="67.62" y="221.6" width="2.8" height="8.0" fill="#089981"/>
<rect x="71.56" y="221.1" width="1.1" height="8.8" fill="#f23645"/>
<rect x="70.71" y="221.6" width="2.8" height="7.5" fill="#f23645"/>
<rect x="74.66" y="223.3" width="1.1" height="21.9" fill="#f23645"/>
<rect x="73.81" y="228.8" width="2.8" height="1.6" fill="#f23645"/>
<rect x="77.75" y="198.0" width="1.1" height="38.6" fill="#089981"/>
<rect x="76.90" y="222.4" width="2.8" height="8.0" fill="#089981"/>
<rect x="80.84" y="217.5" width="1.1" height="34.8" fill="#f23645"/>
<rect x="79.99" y="222.4" width="2.8" height="12.5" fill="#f23645"/>
<rect x="83.93" y="234.6" width="1.1" height="41.8" fill="#f23645"/>
<rect x="83.08" y="234.9" width="2.8" height="25.2" fill="#f23645"/>
<rect x="87.03" y="251.5" width="1.1" height="18.3" fill="#f23645"/>
<rect x="86.18" y="260.1" width="2.8" height="4.7" fill="#f23645"/>
<rect x="90.12" y="253.7" width="1.1" height="19.4" fill="#089981"/>
<rect x="89.27" y="258.2" width="2.8" height="6.9" fill="#089981"/>
<rect x="93.21" y="248.5" width="1.1" height="11.3" fill="#f23645"/>
<rect x="92.36" y="258.2" width="2.8" height="1.3" fill="#f23645"/>
<rect x="96.31" y="244.9" width="1.1" height="15.7" fill="#089981"/>
<rect x="95.46" y="245.7" width="2.8" height="13.3" fill="#089981"/>
<rect x="99.40" y="234.9" width="1.1" height="13.6" fill="#089981"/>
<rect x="98.55" y="244.9" width="2.8" height="1.6" fill="#089981"/>
<rect x="102.49" y="232.4" width="1.1" height="17.8" fill="#089981"/>
<rect x="101.64" y="236.6" width="2.8" height="9.1" fill="#089981"/>
<rect x="105.58" y="229.1" width="1.1" height="15.8" fill="#089981"/>
<rect x="104.73" y="229.6" width="2.8" height="7.3" fill="#089981"/>
<rect x="108.68" y="228.3" width="1.1" height="6.6" fill="#f23645"/>
<rect x="107.83" y="229.6" width="2.8" height="1.6" fill="#f23645"/>
<rect x="111.77" y="229.1" width="1.1" height="6.6" fill="#f23645"/>
<rect x="110.92" y="230.2" width="2.8" height="1.7" fill="#f23645"/>
<rect x="114.86" y="231.6" width="1.1" height="11.6" fill="#f23645"/>
<rect x="114.01" y="232.4" width="2.8" height="9.1" fill="#f23645"/>
<rect x="117.95" y="225.4" width="1.1" height="16.5" fill="#089981"/>
<rect x="117.10" y="231.1" width="2.8" height="10.1" fill="#089981"/>
<rect x="121.05" y="228.8" width="1.1" height="5.8" fill="#f23645"/>
<rect x="120.20" y="230.7" width="2.8" height="1.7" fill="#f23645"/>
<rect x="124.14" y="229.1" width="1.1" height="3.8" fill="#f23645"/>
<rect x="123.29" y="231.2" width="2.8" height="1.0" fill="#f23645"/>
<rect x="127.23" y="218.3" width="1.1" height="14.6" fill="#089981"/>
<rect x="126.38" y="225.4" width="2.8" height="7.0" fill="#089981"/>
<rect x="130.33" y="219.0" width="1.1" height="10.7" fill="#089981"/>
<rect x="129.48" y="219.9" width="2.8" height="5.8" fill="#089981"/>
<rect x="133.42" y="216.2" width="1.1" height="7.6" fill="#f23645"/>
<rect x="132.57" y="220.5" width="2.8" height="1.0" fill="#f23645"/>
<rect x="136.51" y="206.6" width="1.1" height="14.5" fill="#089981"/>
<rect x="135.66" y="216.2" width="2.8" height="4.5" fill="#089981"/>
<rect x="139.60" y="206.2" width="1.1" height="10.3" fill="#089981"/>
<rect x="138.75" y="207.0" width="2.8" height="9.2" fill="#089981"/>
<rect x="142.70" y="204.0" width="1.1" height="12.2" fill="#f23645"/>
<rect x="141.85" y="207.0" width="2.8" height="8.7" fill="#f23645"/>
<rect x="145.79" y="208.6" width="1.1" height="11.3" fill="#089981"/>
<rect x="144.94" y="214.0" width="2.8" height="1.5" fill="#089981"/>
<rect x="148.88" y="210.7" width="1.1" height="5.8" fill="#089981"/>
<rect x="148.03" y="212.6" width="2.8" height="1.9" fill="#089981"/>
<rect x="151.97" y="201.5" width="1.1" height="13.3" fill="#089981"/>
<rect x="151.12" y="202.3" width="2.8" height="11.7" fill="#089981"/>
<rect x="155.07" y="201.8" width="1.1" height="13.0" fill="#f23645"/>
<rect x="154.22" y="202.3" width="2.8" height="7.8" fill="#f23645"/>
<rect x="158.16" y="206.8" width="1.1" height="7.7" fill="#f23645"/>
<rect x="157.31" y="209.8" width="2.8" height="3.3" fill="#f23645"/>
<rect x="161.25" y="212.3" width="1.1" height="9.1" fill="#f23645"/>
<rect x="160.40" y="213.1" width="2.8" height="7.5" fill="#f23645"/>
<rect x="164.34" y="216.8" width="1.1" height="10.4" fill="#f23645"/>
<rect x="163.49" y="220.6" width="2.8" height="1.2" fill="#f23645"/>
<rect x="167.44" y="218.1" width="1.1" height="4.5" fill="#089981"/>
<rect x="166.59" y="218.9" width="2.8" height="2.9" fill="#089981"/>
<rect x="170.53" y="208.1" width="1.1" height="13.0" fill="#089981"/>
<rect x="169.68" y="208.5" width="2.8" height="11.3" fill="#089981"/>
<rect x="173.62" y="208.1" width="1.1" height="5.0" fill="#f23645"/>
<rect x="172.77" y="208.5" width="2.8" height="3.3" fill="#f23645"/>
<rect x="176.72" y="211.1" width="1.1" height="8.7" fill="#f23645"/>
<rect x="175.87" y="211.5" width="2.8" height="7.9" fill="#f23645"/>
<rect x="179.81" y="216.4" width="1.1" height="5.0" fill="#089981"/>
<rect x="178.96" y="217.3" width="2.8" height="2.1" fill="#089981"/>
<rect x="182.90" y="209.8" width="1.1" height="8.6" fill="#089981"/>
<rect x="182.05" y="211.5" width="2.8" height="6.3" fill="#089981"/>
<rect x="185.99" y="210.1" width="1.1" height="4.7" fill="#089981"/>
<rect x="185.14" y="210.6" width="2.8" height="1.7" fill="#089981"/>
<rect x="189.09" y="203.2" width="1.1" height="11.3" fill="#089981"/>
<rect x="188.24" y="209.0" width="2.8" height="2.5" fill="#089981"/>
<rect x="192.18" y="204.8" width="1.1" height="10.0" fill="#f23645"/>
<rect x="191.33" y="209.0" width="2.8" height="2.8" fill="#f23645"/>
<rect x="195.27" y="210.1" width="1.1" height="8.8" fill="#f23645"/>
<rect x="194.42" y="211.1" width="2.8" height="7.0" fill="#f23645"/>
<rect x="198.36" y="216.4" width="1.1" height="8.7" fill="#f23645"/>
<rect x="197.51" y="217.3" width="2.8" height="7.5" fill="#f23645"/>
<rect x="201.46" y="217.3" width="1.1" height="7.8" fill="#089981"/>
<rect x="200.61" y="218.1" width="2.8" height="6.7" fill="#089981"/>
<rect x="204.55" y="211.1" width="1.1" height="9.5" fill="#089981"/>
<rect x="203.70" y="211.8" width="2.8" height="7.1" fill="#089981"/>
<rect x="207.64" y="210.1" width="1.1" height="4.7" fill="#089981"/>
<rect x="206.79" y="211.1" width="2.8" height="1.2" fill="#089981"/>
<rect x="210.74" y="208.1" width="1.1" height="3.7" fill="#089981"/>
<rect x="209.89" y="209.0" width="2.8" height="2.5" fill="#089981"/>
<rect x="213.83" y="204.5" width="1.1" height="4.8" fill="#089981"/>
<rect x="212.98" y="206.8" width="2.8" height="2.2" fill="#089981"/>
<rect x="216.92" y="173.3" width="1.1" height="35.2" fill="#089981"/>
<rect x="216.07" y="181.6" width="2.8" height="26.5" fill="#089981"/>
<rect x="220.01" y="179.9" width="1.1" height="13.0" fill="#f23645"/>
<rect x="219.16" y="180.4" width="2.8" height="2.8" fill="#f23645"/>
<rect x="223.11" y="149.8" width="1.1" height="34.1" fill="#089981"/>
<rect x="222.26" y="156.1" width="2.8" height="26.6" fill="#089981"/>
<rect x="226.20" y="137.4" width="1.1" height="19.1" fill="#089981"/>
<rect x="225.35" y="145.7" width="2.8" height="10.4" fill="#089981"/>
<rect x="229.29" y="131.2" width="1.1" height="23.6" fill="#089981"/>
<rect x="228.44" y="141.2" width="2.8" height="5.0" fill="#089981"/>
<rect x="232.38" y="135.2" width="1.1" height="11.3" fill="#f23645"/>
<rect x="231.53" y="141.2" width="2.8" height="4.5" fill="#f23645"/>
<rect x="235.48" y="141.5" width="1.1" height="8.7" fill="#089981"/>
<rect x="234.63" y="142.4" width="2.8" height="3.8" fill="#089981"/>
<rect x="238.57" y="139.5" width="1.1" height="15.3" fill="#f23645"/>
<rect x="237.72" y="141.5" width="2.8" height="5.8" fill="#f23645"/>
<rect x="241.66" y="139.9" width="1.1" height="10.8" fill="#f23645"/>
<rect x="240.81" y="147.0" width="2.8" height="3.2" fill="#f23645"/>
<rect x="244.76" y="139.0" width="1.1" height="11.7" fill="#089981"/>
<rect x="243.91" y="146.5" width="2.8" height="3.7" fill="#089981"/>
<rect x="247.85" y="140.7" width="1.1" height="7.5" fill="#089981"/>
<rect x="247.00" y="144.5" width="2.8" height="1.7" fill="#089981"/>
<rect x="250.94" y="144.9" width="1.1" height="9.6" fill="#f23645"/>
<rect x="250.09" y="145.2" width="2.8" height="8.8" fill="#f23645"/>
<rect x="254.03" y="148.2" width="1.1" height="18.2" fill="#089981"/>
<rect x="253.18" y="149.0" width="2.8" height="5.0" fill="#089981"/>
<rect x="257.13" y="84.0" width="1.1" height="66.5" fill="#089981"/>
<rect x="256.28" y="108.1" width="2.8" height="41.9" fill="#089981"/>
<rect x="260.22" y="98.2" width="1.1" height="19.9" fill="#f23645"/>
<rect x="259.37" y="108.1" width="2.8" height="4.7" fill="#f23645"/>
<rect x="263.31" y="92.3" width="1.1" height="25.8" fill="#089981"/>
<rect x="262.46" y="105.1" width="2.8" height="7.7" fill="#089981"/>
<rect x="266.40" y="84.5" width="1.1" height="22.3" fill="#089981"/>
<rect x="265.55" y="87.4" width="2.8" height="18.2" fill="#089981"/>
<rect x="269.50" y="82.4" width="1.1" height="20.4" fill="#f23645"/>
<rect x="268.65" y="87.4" width="2.8" height="10.4" fill="#f23645"/>
<rect x="272.59" y="89.0" width="1.1" height="13.8" fill="#089981"/>
<rect x="271.74" y="98.5" width="2.8" height="3.8" fill="#089981"/>
<rect x="275.68" y="87.4" width="1.1" height="12.1" fill="#089981"/>
<rect x="274.83" y="88.2" width="2.8" height="10.8" fill="#089981"/>
<rect x="278.77" y="75.2" width="1.1" height="13.8" fill="#089981"/>
<rect x="277.92" y="77.9" width="2.8" height="10.6" fill="#089981"/>
<rect x="281.87" y="59.1" width="1.1" height="25.8" fill="#089981"/>
<rect x="281.02" y="60.8" width="2.8" height="17.4" fill="#089981"/>
<rect x="284.96" y="50.8" width="1.1" height="29.1" fill="#f23645"/>
<rect x="284.11" y="61.1" width="2.8" height="18.0" fill="#f23645"/>
<rect x="288.05" y="76.9" width="1.1" height="23.7" fill="#f23645"/>
<rect x="287.20" y="78.2" width="2.8" height="18.3" fill="#f23645"/>
<rect x="291.15" y="85.2" width="1.1" height="17.6" fill="#089981"/>
<rect x="290.30" y="88.2" width="2.8" height="8.6" fill="#089981"/>
<rect x="294.24" y="79.1" width="1.1" height="14.1" fill="#089981"/>
<rect x="293.39" y="81.9" width="2.8" height="6.6" fill="#089981"/>
<rect x="297.33" y="79.1" width="1.1" height="10.4" fill="#f23645"/>
<rect x="296.48" y="81.9" width="2.8" height="3.0" fill="#f23645"/>
<rect x="300.42" y="82.9" width="1.1" height="13.9" fill="#f23645"/>
<rect x="299.57" y="84.5" width="2.8" height="10.7" fill="#f23645"/>
<rect x="303.52" y="83.5" width="1.1" height="27.1" fill="#089981"/>
<rect x="302.67" y="88.5" width="2.8" height="6.7" fill="#089981"/>
<rect x="306.61" y="85.2" width="1.1" height="28.7" fill="#f23645"/>
<rect x="305.76" y="88.5" width="2.8" height="15.5" fill="#f23645"/>
<rect x="309.70" y="89.9" width="1.1" height="14.6" fill="#089981"/>
<rect x="308.85" y="98.5" width="2.8" height="5.5" fill="#089981"/>
<rect x="312.79" y="75.7" width="1.1" height="24.9" fill="#089981"/>
<rect x="311.94" y="80.2" width="2.8" height="18.8" fill="#089981"/>
<rect x="315.89" y="72.9" width="1.1" height="13.6" fill="#089981"/>
<rect x="315.04" y="73.2" width="2.8" height="7.5" fill="#089981"/>
<rect x="318.98" y="70.2" width="1.1" height="16.0" fill="#f23645"/>
<rect x="318.13" y="73.2" width="2.8" height="12.5" fill="#f23645"/>
<rect x="322.07" y="84.9" width="1.1" height="18.2" fill="#f23645"/>
<rect x="321.22" y="85.7" width="2.8" height="14.1" fill="#f23645"/>
<rect x="325.17" y="99.5" width="1.1" height="16.6" fill="#f23645"/>
<rect x="324.32" y="99.8" width="2.8" height="15.8" fill="#f23645"/>
<rect x="328.26" y="110.1" width="1.1" height="15.5" fill="#f23645"/>
<rect x="327.41" y="115.6" width="2.8" height="5.8" fill="#f23645"/>
<rect x="331.35" y="111.4" width="1.1" height="17.0" fill="#f23645"/>
<rect x="330.50" y="121.1" width="2.8" height="6.6" fill="#f23645"/>
<rect x="334.44" y="123.9" width="1.1" height="12.1" fill="#f23645"/>
<rect x="333.59" y="127.2" width="2.8" height="5.0" fill="#f23645"/>
<rect x="337.54" y="118.9" width="1.1" height="19.5" fill="#f23645"/>
<rect x="336.69" y="127.2" width="2.8" height="5.8" fill="#f23645"/>
<rect x="340.63" y="113.9" width="1.1" height="19.5" fill="#089981"/>
<rect x="339.78" y="116.8" width="2.8" height="16.2" fill="#089981"/>
<rect x="343.72" y="115.8" width="1.1" height="29.1" fill="#f23645"/>
<rect x="342.87" y="116.6" width="2.8" height="16.6" fill="#f23645"/>
<rect x="346.81" y="128.2" width="1.1" height="12.5" fill="#f23645"/>
<rect x="345.96" y="133.2" width="2.8" height="1.7" fill="#f23645"/>
<rect x="349.91" y="129.1" width="1.1" height="10.4" fill="#089981"/>
<rect x="349.06" y="132.4" width="2.8" height="2.5" fill="#089981"/>
<rect x="353.00" y="131.9" width="1.1" height="15.4" fill="#f23645"/>
<rect x="352.15" y="132.4" width="2.8" height="12.8" fill="#f23645"/>
<rect x="356.09" y="124.9" width="1.1" height="20.8" fill="#089981"/>
<rect x="355.24" y="127.4" width="2.8" height="17.8" fill="#089981"/>
<rect x="359.19" y="119.3" width="1.1" height="8.8" fill="#089981"/>
<rect x="358.34" y="125.1" width="2.8" height="2.6" fill="#089981"/>
<rect x="362.28" y="115.6" width="1.1" height="11.1" fill="#089981"/>
<rect x="361.43" y="116.8" width="2.8" height="8.8" fill="#089981"/>
<rect x="365.37" y="110.1" width="1.1" height="13.3" fill="#089981"/>
<rect x="364.52" y="113.1" width="2.8" height="4.2" fill="#089981"/>
<rect x="368.46" y="110.6" width="1.1" height="4.2" fill="#089981"/>
<rect x="367.61" y="111.4" width="2.8" height="2.0" fill="#089981"/>
<rect x="371.56" y="109.0" width="1.1" height="11.6" fill="#f23645"/>
<rect x="370.71" y="111.4" width="2.8" height="7.5" fill="#f23645"/>
<rect x="374.65" y="114.8" width="1.1" height="11.6" fill="#089981"/>
<rect x="373.80" y="116.1" width="2.8" height="3.3" fill="#089981"/>
<rect x="377.74" y="79.1" width="1.1" height="37.3" fill="#089981"/>
<rect x="376.89" y="79.6" width="2.8" height="36.5" fill="#089981"/>
<rect x="380.83" y="60.3" width="1.1" height="60.8" fill="#f23645"/>
<rect x="379.98" y="79.6" width="2.8" height="15.3" fill="#f23645"/>
<rect x="383.93" y="84.1" width="1.1" height="29.0" fill="#f23645"/>
<rect x="383.08" y="94.5" width="2.8" height="15.3" fill="#f23645"/>
<rect x="387.02" y="80.2" width="1.1" height="32.9" fill="#089981"/>
<rect x="386.17" y="85.2" width="2.8" height="24.3" fill="#089981"/>
<rect x="390.11" y="76.9" width="1.1" height="12.1" fill="#f23645"/>
<rect x="389.26" y="85.7" width="2.8" height="2.5" fill="#f23645"/>
<rect x="393.20" y="84.9" width="1.1" height="22.4" fill="#f23645"/>
<rect x="392.35" y="87.4" width="2.8" height="9.4" fill="#f23645"/>
<rect x="396.30" y="94.9" width="1.1" height="51.0" fill="#f23645"/>
<rect x="395.45" y="96.8" width="2.8" height="45.0" fill="#f23645"/>
<rect x="399.39" y="141.6" width="1.1" height="46.1" fill="#f23645"/>
<rect x="398.54" y="141.9" width="2.8" height="29.9" fill="#f23645"/>
<rect x="402.48" y="158.2" width="1.1" height="32.9" fill="#089981"/>
<rect x="401.63" y="165.6" width="2.8" height="6.2" fill="#089981"/>
<rect x="405.58" y="155.2" width="1.1" height="15.4" fill="#089981"/>
<rect x="404.73" y="157.3" width="2.8" height="8.8" fill="#089981"/>
<rect x="408.67" y="157.3" width="1.1" height="15.8" fill="#f23645"/>
<rect x="407.82" y="157.8" width="2.8" height="11.2" fill="#f23645"/>
<rect x="411.76" y="168.5" width="1.1" height="16.3" fill="#f23645"/>
<rect x="410.91" y="169.0" width="2.8" height="15.4" fill="#f23645"/>
<rect x="414.85" y="167.3" width="1.1" height="28.2" fill="#089981"/>
<rect x="414.00" y="182.3" width="2.8" height="2.5" fill="#089981"/>
<rect x="417.95" y="172.8" width="1.1" height="12.3" fill="#089981"/>
<rect x="417.10" y="176.4" width="2.8" height="6.7" fill="#089981"/>
<rect x="421.04" y="176.1" width="1.1" height="11.6" fill="#f23645"/>
<rect x="420.19" y="176.8" width="2.8" height="5.0" fill="#f23645"/>
<rect x="424.13" y="170.1" width="1.1" height="12.2" fill="#089981"/>
<rect x="423.28" y="171.8" width="2.8" height="10.0" fill="#089981"/>
<rect x="427.22" y="153.2" width="1.1" height="19.1" fill="#089981"/>
<rect x="426.37" y="164.0" width="2.8" height="7.8" fill="#089981"/>
<rect x="430.32" y="153.2" width="1.1" height="12.4" fill="#089981"/>
<rect x="429.47" y="156.2" width="2.8" height="8.3" fill="#089981"/>
<rect x="433.41" y="145.2" width="1.1" height="11.6" fill="#089981"/>
<rect x="432.56" y="146.2" width="2.8" height="10.3" fill="#089981"/>
<rect x="436.50" y="144.1" width="1.1" height="22.4" fill="#f23645"/>
<rect x="435.65" y="146.2" width="2.8" height="16.6" fill="#f23645"/>
<rect x="439.60" y="161.5" width="1.1" height="11.3" fill="#f23645"/>
<rect x="438.75" y="162.3" width="2.8" height="3.8" fill="#f23645"/>
<rect x="442.69" y="159.0" width="1.1" height="15.0" fill="#f23645"/>
<rect x="441.84" y="166.1" width="2.8" height="4.0" fill="#f23645"/>
<rect x="445.78" y="157.3" width="1.1" height="16.7" fill="#089981"/>
<rect x="444.93" y="161.2" width="2.8" height="8.9" fill="#089981"/>
<rect x="448.87" y="154.0" width="1.1" height="9.2" fill="#089981"/>
<rect x="448.02" y="159.0" width="2.8" height="2.5" fill="#089981"/>
<rect x="451.97" y="144.1" width="1.1" height="30.7" fill="#f23645"/>
<rect x="451.12" y="159.8" width="2.8" height="10.0" fill="#f23645"/>
<rect x="455.06" y="168.1" width="1.1" height="23.0" fill="#f23645"/>
<rect x="454.21" y="169.8" width="2.8" height="13.3" fill="#f23645"/>
<rect x="458.15" y="181.7" width="1.1" height="37.3" fill="#f23645"/>
<rect x="457.30" y="183.0" width="2.8" height="33.5" fill="#f23645"/>
<rect x="461.24" y="215.7" width="1.1" height="18.3" fill="#f23645"/>
<rect x="460.39" y="216.2" width="2.8" height="13.6" fill="#f23645"/>
<rect x="464.34" y="201.9" width="1.1" height="30.9" fill="#089981"/>
<rect x="463.49" y="204.6" width="2.8" height="25.2" fill="#089981"/>
<rect x="467.43" y="199.6" width="1.1" height="90.3" fill="#f23645"/>
<rect x="466.58" y="204.6" width="2.8" height="35.2" fill="#f23645"/>
<rect x="470.52" y="218.2" width="1.1" height="43.5" fill="#f23645"/>
<rect x="469.67" y="239.8" width="2.8" height="7.0" fill="#f23645"/>
<rect x="473.61" y="214.9" width="1.1" height="38.2" fill="#089981"/>
<rect x="472.76" y="218.2" width="2.8" height="27.9" fill="#089981"/>
<rect x="476.71" y="206.2" width="1.1" height="14.5" fill="#089981"/>
<rect x="475.86" y="212.9" width="2.8" height="6.1" fill="#089981"/>
<rect x="479.80" y="211.9" width="1.1" height="22.1" fill="#f23645"/>
<rect x="478.95" y="212.9" width="2.8" height="20.3" fill="#f23645"/>
<rect x="482.89" y="230.7" width="1.1" height="45.3" fill="#f23645"/>
<rect x="482.04" y="232.8" width="2.8" height="33.9" fill="#f23645"/>
<rect x="485.99" y="248.1" width="1.1" height="28.6" fill="#089981"/>
<rect x="485.14" y="248.9" width="2.8" height="17.8" fill="#089981"/>
<rect x="489.08" y="243.1" width="1.1" height="15.8" fill="#f23645"/>
<rect x="488.23" y="248.9" width="2.8" height="3.9" fill="#f23645"/>
<rect x="492.17" y="233.2" width="1.1" height="22.9" fill="#089981"/>
<rect x="491.32" y="234.0" width="2.8" height="18.8" fill="#089981"/>
<rect x="495.26" y="233.5" width="1.1" height="15.9" fill="#f23645"/>
<rect x="494.41" y="234.5" width="2.8" height="7.3" fill="#f23645"/>
<rect x="498.36" y="241.1" width="1.1" height="95.3" fill="#f23645"/>
<rect x="497.51" y="241.8" width="2.8" height="75.0" fill="#f23645"/>
<rect x="501.45" y="253.1" width="1.1" height="68.0" fill="#089981"/>
<rect x="500.60" y="258.9" width="2.8" height="57.9" fill="#089981"/>
<rect x="504.54" y="235.1" width="1.1" height="32.9" fill="#089981"/>
<rect x="503.69" y="241.1" width="2.8" height="17.8" fill="#089981"/>
<rect x="507.63" y="213.2" width="1.1" height="32.4" fill="#089981"/>
<rect x="506.78" y="221.2" width="2.8" height="20.6" fill="#089981"/>
<rect x="510.73" y="219.0" width="1.1" height="25.8" fill="#f23645"/>
<rect x="509.88" y="221.2" width="2.8" height="22.3" fill="#f23645"/>
<rect x="513.82" y="240.1" width="1.1" height="22.6" fill="#f23645"/>
<rect x="512.97" y="243.1" width="2.8" height="19.1" fill="#f23645"/>
<rect x="516.91" y="259.7" width="1.1" height="12.5" fill="#f23645"/>
<rect x="516.06" y="261.7" width="2.8" height="2.7" fill="#f23645"/>
<rect x="520.01" y="263.1" width="1.1" height="14.9" fill="#f23645"/>
<rect x="519.16" y="263.9" width="2.8" height="13.3" fill="#f23645"/>
<rect x="523.10" y="275.8" width="1.1" height="50.3" fill="#f23645"/>
<rect x="522.25" y="276.6" width="2.8" height="46.5" fill="#f23645"/>
<rect x="526.19" y="311.2" width="1.1" height="44.4" fill="#f23645"/>
<rect x="525.34" y="323.1" width="2.8" height="25.9" fill="#f23645"/>
<rect x="529.28" y="323.4" width="1.1" height="26.1" fill="#089981"/>
<rect x="528.43" y="326.2" width="2.8" height="22.8" fill="#089981"/>
<rect x="532.38" y="324.9" width="1.1" height="33.2" fill="#f23645"/>
<rect x="531.53" y="326.2" width="2.8" height="19.6" fill="#f23645"/>
<rect x="535.47" y="329.0" width="1.1" height="21.6" fill="#089981"/>
<rect x="534.62" y="331.2" width="2.8" height="14.9" fill="#089981"/>
<rect x="538.56" y="330.8" width="1.1" height="44.8" fill="#f23645"/>
<rect x="537.71" y="331.3" width="2.8" height="22.8" fill="#f23645"/>
<rect x="541.65" y="349.9" width="1.1" height="26.6" fill="#f23645"/>
<rect x="540.80" y="354.1" width="2.8" height="22.0" fill="#f23645"/>
<rect x="544.75" y="364.9" width="1.1" height="26.9" fill="#f23645"/>
<rect x="543.90" y="376.1" width="2.8" height="10.0" fill="#f23645"/>
<rect x="547.84" y="348.2" width="1.1" height="44.1" fill="#089981"/>
<rect x="546.99" y="352.4" width="2.8" height="33.7" fill="#089981"/>
<rect x="550.93" y="337.8" width="1.1" height="18.5" fill="#089981"/>
<rect x="550.08" y="339.0" width="2.8" height="13.3" fill="#089981"/>
<rect x="554.03" y="338.2" width="1.1" height="15.3" fill="#089981"/>
<rect x="553.18" y="338.5" width="2.8" height="1.3" fill="#089981"/>
<rect x="557.12" y="325.0" width="1.1" height="24.8" fill="#089981"/>
<rect x="556.27" y="325.7" width="2.8" height="13.8" fill="#089981"/>
<rect x="560.21" y="282.4" width="1.1" height="43.7" fill="#089981"/>
<rect x="559.36" y="292.4" width="2.8" height="33.2" fill="#089981"/>
<rect x="563.30" y="267.5" width="1.1" height="28.2" fill="#089981"/>
<rect x="562.45" y="281.6" width="2.8" height="10.8" fill="#089981"/>
<rect x="566.40" y="279.6" width="1.1" height="36.9" fill="#f23645"/>
<rect x="565.55" y="281.6" width="2.8" height="25.7" fill="#f23645"/>
<rect x="569.49" y="291.9" width="1.1" height="22.9" fill="#089981"/>
<rect x="568.64" y="294.6" width="2.8" height="13.2" fill="#089981"/>
<rect x="572.58" y="261.7" width="1.1" height="36.2" fill="#089981"/>
<rect x="571.73" y="265.3" width="2.8" height="29.6" fill="#089981"/>
<rect x="575.67" y="265.0" width="1.1" height="13.3" fill="#f23645"/>
<rect x="574.82" y="265.8" width="2.8" height="6.7" fill="#f23645"/>
<rect x="578.77" y="269.1" width="1.1" height="15.5" fill="#f23645"/>
<rect x="577.92" y="272.0" width="2.8" height="8.8" fill="#f23645"/>
<rect x="581.86" y="275.8" width="1.1" height="17.4" fill="#f23645"/>
<rect x="581.01" y="280.8" width="2.8" height="6.6" fill="#f23645"/>
<rect x="584.95" y="265.0" width="1.1" height="29.1" fill="#089981"/>
<rect x="584.10" y="265.8" width="2.8" height="21.6" fill="#089981"/>
<rect x="588.04" y="253.2" width="1.1" height="20.8" fill="#f23645"/>
<rect x="587.19" y="265.7" width="2.8" height="7.8" fill="#f23645"/>
<rect x="591.14" y="264.9" width="1.1" height="12.4" fill="#f23645"/>
<rect x="590.29" y="266.5" width="2.8" height="7.5" fill="#f23645"/>
<rect x="594.23" y="251.2" width="1.1" height="34.4" fill="#089981"/>
<rect x="593.38" y="254.1" width="2.8" height="20.4" fill="#089981"/>
<rect x="597.32" y="245.2" width="1.1" height="35.9" fill="#f23645"/>
<rect x="596.47" y="254.1" width="2.8" height="26.5" fill="#f23645"/>
<rect x="600.42" y="260.7" width="1.1" height="27.7" fill="#089981"/>
<rect x="599.57" y="262.9" width="2.8" height="17.7" fill="#089981"/>
<rect x="603.51" y="233.6" width="1.1" height="47.9" fill="#089981"/>
<rect x="602.66" y="241.9" width="2.8" height="21.6" fill="#089981"/>
<rect x="606.60" y="229.1" width="1.1" height="34.4" fill="#f23645"/>
<rect x="605.75" y="241.9" width="2.8" height="18.3" fill="#f23645"/>
<rect x="609.69" y="259.0" width="1.1" height="53.8" fill="#f23645"/>
<rect x="608.84" y="260.8" width="2.8" height="47.5" fill="#f23645"/>
<rect x="612.79" y="288.2" width="1.1" height="26.2" fill="#089981"/>
<rect x="611.94" y="292.3" width="2.8" height="16.0" fill="#089981"/>
<rect x="615.88" y="276.1" width="1.1" height="26.6" fill="#089981"/>
<rect x="615.03" y="287.3" width="2.8" height="5.0" fill="#089981"/>
<rect x="618.97" y="260.7" width="1.1" height="37.0" fill="#089981"/>
<rect x="618.12" y="274.0" width="2.8" height="13.3" fill="#089981"/>
<rect x="622.06" y="273.5" width="1.1" height="13.8" fill="#f23645"/>
<rect x="621.21" y="274.5" width="2.8" height="12.3" fill="#f23645"/>
<rect x="625.16" y="276.8" width="1.1" height="13.8" fill="#089981"/>
<rect x="624.31" y="282.3" width="2.8" height="4.5" fill="#089981"/>
<rect x="628.25" y="275.6" width="1.1" height="9.2" fill="#089981"/>
<rect x="627.40" y="281.8" width="2.8" height="1.3" fill="#089981"/>
<rect x="631.34" y="279.0" width="1.1" height="5.5" fill="#089981"/>
<rect x="630.49" y="280.1" width="2.8" height="2.7" fill="#089981"/>
<rect x="634.44" y="277.3" width="1.1" height="11.6" fill="#089981"/>
<rect x="633.59" y="277.8" width="2.8" height="5.0" fill="#089981"/>
<rect x="637.53" y="267.8" width="1.1" height="10.7" fill="#089981"/>
<rect x="636.68" y="276.5" width="2.8" height="1.6" fill="#089981"/>
<rect x="640.62" y="273.5" width="1.1" height="12.9" fill="#089981"/>
<rect x="639.77" y="276.1" width="2.8" height="1.7" fill="#089981"/>
<rect x="643.71" y="259.0" width="1.1" height="17.5" fill="#089981"/>
<rect x="642.86" y="261.2" width="2.8" height="14.9" fill="#089981"/>
<rect x="646.81" y="250.2" width="1.1" height="14.7" fill="#089981"/>
<rect x="645.96" y="259.0" width="2.8" height="2.5" fill="#089981"/>
<rect x="649.90" y="255.7" width="1.1" height="11.1" fill="#f23645"/>
<rect x="649.05" y="258.5" width="2.8" height="6.0" fill="#f23645"/>
<rect x="652.99" y="263.2" width="1.1" height="7.5" fill="#f23645"/>
<rect x="652.14" y="264.0" width="2.8" height="5.8" fill="#f23645"/>
<rect x="656.08" y="260.7" width="1.1" height="9.1" fill="#089981"/>
<rect x="655.23" y="267.3" width="2.8" height="2.2" fill="#089981"/>
<rect x="659.18" y="259.5" width="1.1" height="8.3" fill="#089981"/>
<rect x="658.33" y="260.2" width="2.8" height="7.1" fill="#089981"/>
<rect x="662.27" y="259.9" width="1.1" height="9.9" fill="#f23645"/>
<rect x="661.42" y="260.2" width="2.8" height="9.3" fill="#f23645"/>
<rect x="665.36" y="263.5" width="1.1" height="9.7" fill="#089981"/>
<rect x="664.51" y="264.0" width="2.8" height="5.8" fill="#089981"/>
<rect x="668.46" y="261.2" width="1.1" height="7.3" fill="#f23645"/>
<rect x="667.61" y="261.5" width="2.8" height="6.7" fill="#f23645"/>
<rect x="671.55" y="262.4" width="1.1" height="6.6" fill="#f23645"/>
<rect x="670.70" y="264.5" width="2.8" height="4.0" fill="#f23645"/>
<rect x="674.64" y="267.3" width="1.1" height="11.2" fill="#f23645"/>
<rect x="673.79" y="268.2" width="2.8" height="1.6" fill="#f23645"/>
<rect x="677.73" y="269.0" width="1.1" height="8.8" fill="#f23645"/>
<rect x="676.88" y="269.5" width="2.8" height="1.2" fill="#f23645"/>
<rect x="680.83" y="257.4" width="1.1" height="14.4" fill="#089981"/>
<rect x="679.98" y="259.0" width="2.8" height="12.5" fill="#089981"/>
<rect x="683.92" y="250.7" width="1.1" height="10.8" fill="#089981"/>
<rect x="683.07" y="253.2" width="2.8" height="6.3" fill="#089981"/>
<rect x="687.01" y="252.4" width="1.1" height="9.5" fill="#f23645"/>
<rect x="686.16" y="252.9" width="2.8" height="8.6" fill="#f23645"/>
<rect x="690.10" y="256.9" width="1.1" height="5.0" fill="#089981"/>
<rect x="689.25" y="257.4" width="2.8" height="4.1" fill="#089981"/>
<rect x="693.20" y="256.9" width="1.1" height="4.3" fill="#f23645"/>
<rect x="692.35" y="257.4" width="2.8" height="2.1" fill="#f23645"/>
<rect x="696.29" y="251.9" width="1.1" height="7.6" fill="#089981"/>
<rect x="695.44" y="254.9" width="2.8" height="4.1" fill="#089981"/>
<rect x="699.38" y="254.1" width="1.1" height="19.9" fill="#f23645"/>
<rect x="698.53" y="254.9" width="2.8" height="18.6" fill="#f23645"/>
<rect x="702.47" y="265.7" width="1.1" height="8.3" fill="#089981"/>
<rect x="701.62" y="266.2" width="2.8" height="7.3" fill="#089981"/>
<rect x="705.57" y="264.0" width="1.1" height="5.8" fill="#089981"/>
<rect x="704.72" y="264.9" width="2.8" height="1.6" fill="#089981"/>
<rect x="708.66" y="264.5" width="1.1" height="7.8" fill="#f23645"/>
<rect x="707.81" y="265.2" width="2.8" height="5.5" fill="#f23645"/>
<rect x="711.75" y="265.7" width="1.1" height="6.1" fill="#089981"/>
<rect x="710.90" y="268.2" width="2.8" height="2.5" fill="#089981"/>
<rect x="714.85" y="260.7" width="1.1" height="12.1" fill="#089981"/>
<rect x="714.00" y="267.8" width="2.8" height="2.0" fill="#089981"/>
<rect x="717.94" y="266.2" width="1.1" height="4.5" fill="#089981"/>
<rect x="717.09" y="266.8" width="2.8" height="1.7" fill="#089981"/>
<rect x="721.03" y="244.1" width="1.1" height="24.1" fill="#089981"/>
<rect x="720.18" y="246.2" width="2.8" height="21.1" fill="#089981"/>
<rect x="724.12" y="245.7" width="1.1" height="14.2" fill="#f23645"/>
<rect x="723.27" y="246.2" width="2.8" height="5.7" fill="#f23645"/>
<rect x="727.22" y="244.9" width="1.1" height="14.1" fill="#089981"/>
<rect x="726.37" y="246.6" width="2.8" height="5.3" fill="#089981"/>
<rect x="730.31" y="234.1" width="1.1" height="20.0" fill="#089981"/>
<rect x="729.46" y="239.1" width="2.8" height="7.8" fill="#089981"/>
<rect x="733.40" y="235.3" width="1.1" height="9.6" fill="#f23645"/>
<rect x="732.55" y="239.1" width="2.8" height="1.2" fill="#f23645"/>
<rect x="736.49" y="234.1" width="1.1" height="16.6" fill="#f23645"/>
<rect x="735.64" y="240.3" width="2.8" height="4.9" fill="#f23645"/>
<rect x="739.59" y="240.8" width="1.1" height="14.9" fill="#f23645"/>
<rect x="738.74" y="245.2" width="2.8" height="7.2" fill="#f23645"/>
<rect x="742.68" y="227.5" width="1.1" height="25.4" fill="#089981"/>
<rect x="741.83" y="228.3" width="2.8" height="24.1" fill="#089981"/>
<rect x="745.77" y="227.0" width="1.1" height="18.2" fill="#f23645"/>
<rect x="744.92" y="228.0" width="2.8" height="16.6" fill="#f23645"/>
<rect x="748.87" y="243.3" width="1.1" height="18.6" fill="#f23645"/>
<rect x="748.02" y="244.1" width="2.8" height="5.8" fill="#f23645"/>
<rect x="751.96" y="246.2" width="1.1" height="16.2" fill="#f23645"/>
<rect x="751.11" y="249.9" width="2.8" height="4.7" fill="#f23645"/>
<rect x="755.05" y="250.2" width="1.1" height="15.5" fill="#f23645"/>
<rect x="754.20" y="254.6" width="2.8" height="10.6" fill="#f23645"/>
<rect x="758.14" y="264.0" width="1.1" height="13.8" fill="#f23645"/>
<rect x="757.29" y="264.5" width="2.8" height="1.2" fill="#f23645"/>
<rect x="761.24" y="259.9" width="1.1" height="8.3" fill="#089981"/>
<rect x="760.39" y="262.9" width="2.8" height="2.8" fill="#089981"/>
<rect x="764.33" y="257.9" width="1.1" height="5.3" fill="#089981"/>
<rect x="763.48" y="258.2" width="2.8" height="4.7" fill="#089981"/>
<rect x="767.42" y="257.9" width="1.1" height="12.3" fill="#f23645"/>
<rect x="766.57" y="258.2" width="2.8" height="5.3" fill="#f23645"/>
<rect x="770.51" y="262.4" width="1.1" height="10.4" fill="#f23645"/>
<rect x="769.66" y="262.9" width="2.8" height="3.9" fill="#f23645"/>
<rect x="773.61" y="264.5" width="1.1" height="5.7" fill="#f23645"/>
<rect x="772.76" y="266.2" width="2.8" height="3.3" fill="#f23645"/>
<rect x="776.70" y="268.2" width="1.1" height="17.4" fill="#f23645"/>
<rect x="775.85" y="269.5" width="2.8" height="3.3" fill="#f23645"/>
<rect x="779.79" y="244.6" width="1.1" height="28.6" fill="#089981"/>
<rect x="778.94" y="249.9" width="2.8" height="22.9" fill="#089981"/>
<rect x="782.88" y="243.3" width="1.1" height="33.5" fill="#f23645"/>
<rect x="782.03" y="250.2" width="2.8" height="25.9" fill="#f23645"/>
<rect x="785.98" y="271.8" width="1.1" height="16.6" fill="#f23645"/>
<rect x="785.13" y="276.1" width="2.8" height="3.4" fill="#f23645"/>
<rect x="789.07" y="276.8" width="1.1" height="36.2" fill="#f23645"/>
<rect x="788.22" y="279.0" width="2.8" height="22.7" fill="#f23645"/>
<rect x="792.16" y="297.5" width="1.1" height="41.5" fill="#f23645"/>
<rect x="791.31" y="301.3" width="2.8" height="37.2" fill="#f23645"/>
<rect x="795.26" y="336.8" width="1.1" height="16.3" fill="#f23645"/>
<rect x="794.41" y="338.2" width="2.8" height="1.6" fill="#f23645"/>
<rect x="798.35" y="335.2" width="1.1" height="20.9" fill="#f23645"/>
<rect x="797.50" y="339.8" width="2.8" height="9.7" fill="#f23645"/>
<rect x="801.44" y="346.5" width="1.1" height="21.9" fill="#f23645"/>
<rect x="800.59" y="349.5" width="2.8" height="4.5" fill="#f23645"/>
<rect x="804.53" y="342.3" width="1.1" height="18.3" fill="#f23645"/>
<rect x="803.68" y="351.8" width="2.8" height="1.7" fill="#f23645"/>
<rect x="807.63" y="346.5" width="1.1" height="22.9" fill="#089981"/>
<rect x="806.78" y="350.1" width="2.8" height="5.0" fill="#089981"/>
<rect x="810.72" y="339.5" width="1.1" height="26.9" fill="#f23645"/>
<rect x="809.87" y="350.1" width="2.8" height="13.8" fill="#f23645"/>
<rect x="813.81" y="347.8" width="1.1" height="28.9" fill="#f23645"/>
<rect x="812.96" y="363.9" width="2.8" height="8.3" fill="#f23645"/>
<rect x="816.90" y="339.5" width="1.1" height="33.2" fill="#089981"/>
<rect x="816.05" y="343.5" width="2.8" height="28.7" fill="#089981"/>
<rect x="820.00" y="327.9" width="1.1" height="17.7" fill="#f23645"/>
<rect x="819.15" y="342.8" width="2.8" height="1.2" fill="#f23645"/>
<rect x="823.09" y="334.0" width="1.1" height="16.1" fill="#089981"/>
<rect x="822.24" y="339.5" width="2.8" height="4.5" fill="#089981"/>
<rect x="826.18" y="325.7" width="1.1" height="30.7" fill="#089981"/>
<rect x="825.33" y="334.0" width="2.8" height="5.8" fill="#089981"/>
<rect x="829.28" y="332.9" width="1.1" height="86.5" fill="#f23645"/>
<rect x="828.43" y="334.0" width="2.8" height="79.5" fill="#f23645"/>
<rect x="832.37" y="377.9" width="1.1" height="49.3" fill="#089981"/>
<rect x="831.52" y="381.2" width="2.8" height="32.3" fill="#089981"/>
<rect x="835.46" y="345.6" width="1.1" height="40.4" fill="#089981"/>
<rect x="834.61" y="354.0" width="2.8" height="27.4" fill="#089981"/>
<rect x="838.55" y="350.1" width="1.1" height="26.3" fill="#f23645"/>
<rect x="837.70" y="354.0" width="2.8" height="18.2" fill="#f23645"/>
<rect x="841.65" y="357.3" width="1.1" height="30.7" fill="#089981"/>
<rect x="840.80" y="367.7" width="2.8" height="4.5" fill="#089981"/>
<rect x="844.74" y="365.1" width="1.1" height="24.9" fill="#f23645"/>
<rect x="843.89" y="367.7" width="2.8" height="15.0" fill="#f23645"/>
<rect x="847.83" y="368.1" width="1.1" height="18.2" fill="#089981"/>
<rect x="846.98" y="374.4" width="2.8" height="8.3" fill="#089981"/>
<rect x="850.92" y="374.1" width="1.1" height="35.7" fill="#f23645"/>
<rect x="850.07" y="374.6" width="2.8" height="13.6" fill="#f23645"/>
<rect x="854.02" y="379.6" width="1.1" height="23.9" fill="#089981"/>
<rect x="853.17" y="385.2" width="2.8" height="3.3" fill="#089981"/>
<rect x="857.11" y="377.4" width="1.1" height="31.6" fill="#f23645"/>
<rect x="856.26" y="385.2" width="2.8" height="3.8" fill="#f23645"/>
<rect x="860.20" y="361.3" width="1.1" height="33.6" fill="#089981"/>
<rect x="859.35" y="369.1" width="2.8" height="19.9" fill="#089981"/>
<rect x="863.30" y="363.3" width="1.1" height="24.9" fill="#f23645"/>
<rect x="862.45" y="369.1" width="2.8" height="18.8" fill="#f23645"/>
<rect x="866.39" y="362.0" width="1.1" height="34.2" fill="#089981"/>
<rect x="865.54" y="364.6" width="2.8" height="23.3" fill="#089981"/>
<rect x="869.48" y="360.3" width="1.1" height="19.9" fill="#f23645"/>
<rect x="868.63" y="364.6" width="2.8" height="15.0" fill="#f23645"/>
<rect x="872.57" y="379.3" width="1.1" height="85.9" fill="#f23645"/>
<rect x="871.72" y="379.8" width="2.8" height="85.1" fill="#f23645"/>
<rect x="875.67" y="432.0" width="1.1" height="33.7" fill="#089981"/>
<rect x="874.82" y="445.7" width="2.8" height="19.5" fill="#089981"/>
<rect x="878.76" y="441.3" width="1.1" height="19.9" fill="#f23645"/>
<rect x="877.91" y="445.7" width="2.8" height="10.0" fill="#f23645"/>
<rect x="881.85" y="451.2" width="1.1" height="29.4" fill="#f23645"/>
<rect x="881.00" y="455.7" width="2.8" height="15.0" fill="#f23645"/>
<rect x="884.94" y="469.8" width="1.1" height="14.2" fill="#f23645"/>
<rect x="884.09" y="470.7" width="2.8" height="5.8" fill="#f23645"/>
<g>
<circle cx="885.4" cy="515.4" r="8.55" fill="#fff" stroke="#9c27b0" stroke-width="1.5"/>
<path d="M887.46 511.1 L882.0 516.0 H885.1 L883.0 520.6 L889.3 515.1 H886.0 Z" fill="#9c27b0" stroke="#9c27b0" stroke-width="0.25" stroke-linejoin="round"/>
<circle cx="891.7" cy="509.5" r="3.2" fill="#fff"/>
<circle cx="891.7" cy="509.5" r="2.2" fill="#f23645"/>
<circle cx="904.3" cy="515.2" r="9.0" fill="#fff" stroke="#f23645" stroke-width="1.55"/>
<clipPath id="fl"><circle cx="904.2" cy="515.4" r="7.3"/></clipPath>
<g clip-path="url(#fl)">
<rect x="896" y="507" width="17" height="17" fill="#fff"/>
<rect x="896" y="508.6" width="17" height="2.0" fill="#ef5350"/>
<rect x="896" y="514.1" width="17" height="2.5" fill="#ef5350"/>
<rect x="896" y="519.1" width="17" height="2.9" fill="#ef5350"/>
<rect x="896" y="507" width="9.8" height="9.6" fill="#4296ee"/>
<g fill="#fff" fill-opacity="0.75">
<circle cx="899.3" cy="510.4" r="0.5"/><circle cx="901.4" cy="510.4" r="0.5"/><circle cx="903.7" cy="510.4" r="0.5"/>
<circle cx="899.3" cy="512.5" r="0.5"/><circle cx="901.4" cy="512.5" r="0.5"/><circle cx="903.7" cy="512.5" r="0.5"/>
<circle cx="899.3" cy="514.6" r="0.5"/><circle cx="901.4" cy="514.6" r="0.5"/><circle cx="903.7" cy="514.6" r="0.5"/>
</g>
</g>
</g>
<g fill="#0e0e0e">
<path d="M10.76 571.2H21V584.26H16.13V576.45H10.76Z"/>
<circle cx="25.5" cy="573.8" r="2.5"/>
<path d="M31.37 571.2H36.98L31.86 584.26H26Z"/>
</g>
</svg>
<div class="grp"><span class="t" style="left:16.50px;top:6px;font-size:10.0px;color:#131722;letter-spacing:0.372px">Bitcoin</span> <span class="t" style="left:53.30px;top:6px;font-size:10.0px;color:#131722">/</span> <span class="t" style="left:61.50px;top:6px;font-size:10.0px;color:#131722;letter-spacing:0.099px">U.S.</span> <span class="t" style="left:84.75px;top:6px;font-size:10.0px;color:#131722;letter-spacing:0.075px">Dollar</span> <span class="t" style="left:115.90px;top:6px;font-size:10.0px;color:#131722">·</span> <span class="t" style="left:123.10px;top:6px;font-size:10.0px;color:#131722;transform:scaleX(0.9573);transform-origin:0 0">1h</span> <span class="t" style="left:137.40px;top:6px;font-size:10.0px;color:#131722">·</span> <span class="t" style="left:144.75px;top:6px;font-size:10.0px;color:#131722;transform:scaleX(0.8603);transform-origin:0 0">CRYPTO</span> <span class="t" style="left:187.80px;top:6px;font-size:10.0px;color:#131722">O</span><span class="t" style="left:195.50px;top:6px;font-size:10.0px;color:#f23645;letter-spacing:0.160px">104,047.85</span> <span class="t" style="left:253.80px;top:6px;font-size:10.0px;color:#131722">H</span><span class="t" style="left:261.50px;top:6px;font-size:10.0px;color:#f23645;letter-spacing:0.160px">104,071.96</span> <span class="t" style="left:319.80px;top:6px;font-size:10.0px;color:#131722">L</span><span class="t" style="left:326.00px;top:6px;font-size:10.0px;color:#f23645;letter-spacing:0.138px">103,676.30</span> <span class="t" style="left:383.80px;top:6px;font-size:10.0px;color:#131722">C</span><span class="t" style="left:391.00px;top:6px;font-size:10.0px;color:#f23645;letter-spacing:0.138px">103,876.91</span> <span class="t" style="left:449.80px;top:6px;font-size:10.0px;color:#f23645;letter-spacing:-0.024px">−170.94 (−0.16%)</span></div>
<div class="grp"><span class="t" style="left:16.50px;top:21px;font-size:10.0px;color:#131722;letter-spacing:-0.023px">LuxAlgo</span> <span class="t" style="left:58.00px;top:21px;font-size:10.0px;color:#131722">-</span> <span class="t" style="left:63.75px;top:21px;font-size:10.0px;color:#131722;letter-spacing:0.103px">Support</span> <span class="t" style="left:103.75px;top:21px;font-size:10.0px;color:#131722;transform:scaleX(1.0267);transform-origin:0 0">&amp;</span> <span class="t" style="left:115.00px;top:21px;font-size:10.0px;color:#131722;letter-spacing:-0.080px">Resistance</span> <span class="t" style="left:168.10px;top:21px;font-size:10.0px;color:#131722;letter-spacing:-0.018px">Dynamic</span> <span class="t" style="left:211.90px;top:21px;font-size:10.0px;color:#131722;transform:scaleX(0.9296);transform-origin:0 0">(8,</span> <span class="t" style="left:228.10px;top:21px;font-size:10.0px;color:#131722;transform:scaleX(0.9276);transform-origin:0 0">50,</span> <span class="t" style="left:245.60px;top:21px;font-size:10.0px;color:#131722;letter-spacing:0.494px">4)</span> <span class="t" style="left:261.90px;top:21px;font-size:10px;color:#131722;transform:scaleX(0.7000);transform-origin:0 0;-webkit-text-stroke:0.1px currentColor">∅</span> <span class="t" style="left:275.60px;top:21px;font-size:10px;color:#131722;transform:scaleX(0.7000);transform-origin:0 0;-webkit-text-stroke:0.1px currentColor">∅</span> <span class="t" style="left:289.30px;top:21px;font-size:10.0px;color:#f23645;letter-spacing:0.182px">107,601.92</span> <span class="t" style="left:348.50px;top:21px;font-size:10.0px;color:#2962ff;letter-spacing:0.193px">107,223.20</span></div>
<div class="grp"><span class="t" style="left:16.50px;top:36px;font-size:10.0px;color:#131722;transform:scaleX(0.8536);transform-origin:0 0">EMA</span> <span class="t" style="left:39.40px;top:36px;font-size:10.0px;color:#131722;letter-spacing:0.604px">20/50/100/200</span> <span class="t" style="left:118.00px;top:36px;font-size:10.0px;color:#ff0000;letter-spacing:0.271px">106,018.04</span> <span class="t" style="left:177.00px;top:36px;font-size:10.0px;color:#ffeb00;letter-spacing:0.193px">107,441.53</span> <span class="t" style="left:236.30px;top:36px;font-size:10.0px;color:#ff8c1a;letter-spacing:0.104px">108,595.41</span> <span class="t" style="left:295.30px;top:36px;font-size:10.0px;color:#0000ff;letter-spacing:0.126px">109,666.98</span></div>
<div class="grp"><span class="t" style="left:954.70px;top:24px;font-size:10.0px;color:#131722;letter-spacing:0.137px">117,000.00</span> <span class="t" style="left:954.70px;top:58px;font-size:10.0px;color:#131722;letter-spacing:0.137px">116,000.00</span> <span class="t" style="left:954.70px;top:92px;font-size:10.0px;color:#131722;letter-spacing:0.137px">115,000.00</span> <span class="t" style="left:954.70px;top:126px;font-size:10.0px;color:#131722;letter-spacing:0.137px">114,000.00</span> <span class="t" style="left:954.70px;top:160px;font-size:10.0px;color:#131722;letter-spacing:0.137px">113,000.00</span> <span class="t" style="left:954.70px;top:194px;font-size:10.0px;color:#131722;letter-spacing:0.137px">112,000.00</span> <span class="t" style="left:954.70px;top:229px;font-size:10.0px;color:#131722;letter-spacing:0.137px">111,000.00</span> <span class="t" style="left:954.70px;top:263px;font-size:10.0px;color:#131722;letter-spacing:0.137px">110,000.00</span> <span class="t" style="left:954.70px;top:297px;font-size:10.0px;color:#131722;letter-spacing:0.137px">109,000.00</span> <span class="t" style="left:954.70px;top:331px;font-size:10.0px;color:#131722;letter-spacing:0.137px">108,000.00</span> <span class="t" style="left:954.70px;top:365px;font-size:10.0px;color:#131722;letter-spacing:0.137px">107,000.00</span> <span class="t" style="left:954.70px;top:399px;font-size:10.0px;color:#131722;letter-spacing:0.137px">106,000.00</span> <span class="t" style="left:954.70px;top:433px;font-size:10.0px;color:#131722;letter-spacing:0.137px">105,000.00</span> <span class="t" style="left:954.70px;top:467px;font-size:10.0px;color:#131722;letter-spacing:0.137px">104,000.00</span> <span class="t" style="left:954.70px;top:501px;font-size:10.0px;color:#131722;letter-spacing:0.137px">103,000.00</span></div>
<div class="grp"><span class="t" style="left:20.44px;top:535px;font-size:10.0px;color:#131722">24</span> <span class="t" style="left:94.70px;top:535px;font-size:10.0px;color:#131722">25</span> <span class="t" style="left:168.96px;top:535px;font-size:10.0px;color:#131722">26</span> <span class="t" style="left:243.22px;top:535px;font-size:10.0px;color:#131722">27</span> <span class="t" style="left:317.48px;top:535px;font-size:10.0px;color:#131722">28</span> <span class="t" style="left:391.74px;top:535px;font-size:10.0px;color:#131722">29</span> <span class="t" style="left:466.00px;top:535px;font-size:10.0px;color:#131722">30</span> <span class="t" style="left:540.26px;top:535px;font-size:10.0px;color:#131722">31</span> <span class="t" style="left:610.63px;top:535px;font-size:10.0px;color:#131722;font-weight:bold;-webkit-text-stroke:0px currentColor">Nov</span> <span class="t" style="left:691.56px;top:535px;font-size:10.0px;color:#131722">2</span> <span class="t" style="left:765.82px;top:535px;font-size:10.0px;color:#131722">3</span> <span class="t" style="left:840.08px;top:535px;font-size:10.0px;color:#131722">4</span> <span class="t" style="left:914.34px;top:535px;font-size:10.0px;color:#131722">5</span></div>
<div style="position:absolute;left:947px;top:0;width:67px;height:27.7px;background:#fff"></div>
<div style="position:absolute;left:948.8px;top:0.7px;width:63px;height:24.6px;border:1px solid #ececef;border-radius:4.5px;background:#fff;box-sizing:border-box;"></div>
<span class="t" style="left:957.70px;top:8px;font-size:10.0px;color:#131722;transform:scaleX(0.8663);transform-origin:0 0">USD</span>
<div class="pl" style="top:153.8px;height:15.2px;background:#2962ff"></div>
<span class="t" style="left:954.70px;top:156px;font-size:10.0px;color:#fff;letter-spacing:0.137px;-webkit-text-stroke:0.3px currentColor">113,074.37</span>
<div class="pl" style="top:169px;height:15.1px;background:#089981"></div>
<span class="t" style="left:954.70px;top:171px;font-size:10.0px;color:#fff;letter-spacing:0.137px;-webkit-text-stroke:0.3px currentColor">112,691.54</span>
<div class="pl" style="top:272px;height:15.0px;background:#0000ff"></div>
<span class="t" style="left:954.70px;top:274px;font-size:10.0px;color:#fff;letter-spacing:0.137px;-webkit-text-stroke:0.3px currentColor">109,666.98</span>
<div class="pl" style="top:309.0px;height:14.7px;background:#ff7f00"></div>
<span class="t" style="left:954.70px;top:311px;font-size:10.0px;color:#fff;letter-spacing:0.137px;-webkit-text-stroke:0.3px currentColor">108,595.41</span>
<div class="pl" style="top:325.2px;height:14.6px;background:#f23645"></div>
<span class="t" style="left:954.70px;top:327px;font-size:10.0px;color:#fff;letter-spacing:0.137px;-webkit-text-stroke:0.3px currentColor">107,601.92</span>
<div class="pl" style="top:339.8px;height:15.1px;background:#ffff00"></div>
<span class="t" style="left:954.70px;top:342px;font-size:10.0px;color:#000;letter-spacing:0.137px;-webkit-text-stroke:0.3px currentColor">107,441.53</span>
<div class="pl" style="top:355.2px;height:14.8px;background:#2962ff"></div>
<span class="t" style="left:954.70px;top:357px;font-size:10.0px;color:#fff;letter-spacing:0.137px;-webkit-text-stroke:0.3px currentColor">107,223.20</span>
<div class="pl" style="top:396.2px;height:15.2px;background:#ff0000"></div>
<span class="t" style="left:954.70px;top:399px;font-size:10.0px;color:#fff;letter-spacing:0.137px;-webkit-text-stroke:0.3px currentColor">106,018.04</span>
<div class="pl" style="top:469.2px;height:15.0px;background:#f23645"></div>
<span class="t" style="left:954.70px;top:472px;font-size:10.0px;color:#fff;letter-spacing:0.137px;-webkit-text-stroke:0.3px currentColor">103,876.91</span>
<div class="pl" style="left:901.7px;width:43.9px;top:469.2px;height:15px;background:#f23645;border-radius:2px 0 0 2px"></div>
<span class="t" style="left:905.60px;top:472px;font-size:10.0px;color:#fff;transform:scaleX(0.8900);transform-origin:0 0;-webkit-text-stroke:0.3px currentColor">BTCUSD</span>
<div style="position:absolute;left:43.6px;top:567.02px;font-size:18.4px;line-height:22px;font-weight:bold;letter-spacing:-0.304px;color:#0e0e0e;white-space:nowrap">TradingView</div>
</body></html>
